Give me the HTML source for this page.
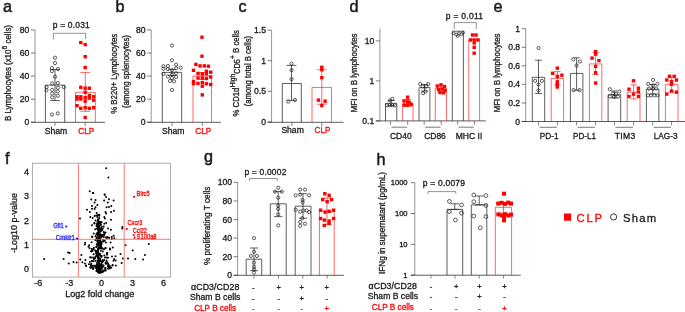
<!DOCTYPE html>
<html><head><meta charset="utf-8"><title>Figure</title>
<style>html,body{margin:0;padding:0;background:#fff}svg{display:block;will-change:transform;opacity:0.999}text{font-family:"Liberation Sans", sans-serif}</style>
</head><body>
<svg width="685" height="312" viewBox="0 0 685 312">
<rect width="685" height="312" fill="#fff"/>
<text x="3.00" y="12.40" font-size="16.2" text-anchor="start" fill="#1a1a1a" stroke="#1a1a1a" stroke-width="0.5" font-weight="normal" >a</text>
<line x1="35.00" y1="29.90" x2="35.00" y2="122.30" stroke="#8a8a8a" stroke-width="0.9" />
<line x1="31.00" y1="29.90" x2="35.00" y2="29.90" stroke="#444" stroke-width="0.7" />
<text x="29.40" y="32.91" font-size="8.6" text-anchor="end" fill="#1a1a1a" stroke="#1a1a1a" stroke-width="0.3" font-weight="normal" >80</text>
<line x1="31.00" y1="53.00" x2="35.00" y2="53.00" stroke="#444" stroke-width="0.7" />
<text x="29.40" y="56.01" font-size="8.6" text-anchor="end" fill="#1a1a1a" stroke="#1a1a1a" stroke-width="0.3" font-weight="normal" >60</text>
<line x1="31.00" y1="76.10" x2="35.00" y2="76.10" stroke="#444" stroke-width="0.7" />
<text x="29.40" y="79.11" font-size="8.6" text-anchor="end" fill="#1a1a1a" stroke="#1a1a1a" stroke-width="0.3" font-weight="normal" >40</text>
<line x1="31.00" y1="99.20" x2="35.00" y2="99.20" stroke="#444" stroke-width="0.7" />
<text x="29.40" y="102.21" font-size="8.6" text-anchor="end" fill="#1a1a1a" stroke="#1a1a1a" stroke-width="0.3" font-weight="normal" >20</text>
<line x1="31.00" y1="122.30" x2="35.00" y2="122.30" stroke="#444" stroke-width="0.7" />
<text x="29.40" y="125.31" font-size="8.6" text-anchor="end" fill="#1a1a1a" stroke="#1a1a1a" stroke-width="0.3" font-weight="normal" >0</text>
<line x1="31.00" y1="122.30" x2="105.00" y2="122.30" stroke="#333" stroke-width="0.8" />
<line x1="55.00" y1="122.30" x2="55.00" y2="126.00" stroke="#555" stroke-width="0.7" />
<line x1="85.20" y1="122.30" x2="85.20" y2="126.00" stroke="#555" stroke-width="0.7" />
<path d="M45.40 122.30V85.10H64.70V122.30" fill="none" stroke="#1a1a1a" stroke-width="0.7"/>
<path d="M75.50 122.30V92.30H95.30V122.30" fill="none" stroke="#ff0000" stroke-width="0.6"/>
<line x1="55.00" y1="69.50" x2="55.00" y2="100.50" stroke="#1a1a1a" stroke-width="0.7" />
<line x1="50.40" y1="69.50" x2="59.60" y2="69.50" stroke="#1a1a1a" stroke-width="0.7" />
<line x1="50.40" y1="100.50" x2="59.60" y2="100.50" stroke="#1a1a1a" stroke-width="0.7" />
<line x1="85.30" y1="72.40" x2="85.30" y2="111.30" stroke="#ff0000" stroke-width="0.6" />
<line x1="80.30" y1="72.40" x2="90.30" y2="72.40" stroke="#ff0000" stroke-width="0.6" />
<line x1="80.30" y1="111.30" x2="90.30" y2="111.30" stroke="#ff0000" stroke-width="0.6" />
<circle cx="55.00" cy="57.70" r="1.6" fill="none" stroke="#1a1a1a" stroke-width="0.7"/>
<circle cx="55.00" cy="63.10" r="1.6" fill="none" stroke="#1a1a1a" stroke-width="0.7"/>
<circle cx="51.90" cy="68.00" r="1.6" fill="none" stroke="#1a1a1a" stroke-width="0.7"/>
<circle cx="58.00" cy="69.00" r="1.6" fill="none" stroke="#1a1a1a" stroke-width="0.7"/>
<circle cx="51.90" cy="71.10" r="1.6" fill="none" stroke="#1a1a1a" stroke-width="0.7"/>
<circle cx="55.00" cy="76.70" r="1.6" fill="none" stroke="#1a1a1a" stroke-width="0.7"/>
<circle cx="52.20" cy="83.50" r="1.6" fill="none" stroke="#1a1a1a" stroke-width="0.7"/>
<circle cx="57.80" cy="83.00" r="1.6" fill="none" stroke="#1a1a1a" stroke-width="0.7"/>
<circle cx="46.50" cy="87.10" r="1.6" fill="none" stroke="#1a1a1a" stroke-width="0.7"/>
<circle cx="63.70" cy="87.10" r="1.6" fill="none" stroke="#1a1a1a" stroke-width="0.7"/>
<circle cx="57.80" cy="87.80" r="1.6" fill="none" stroke="#1a1a1a" stroke-width="0.7"/>
<circle cx="46.50" cy="90.20" r="1.6" fill="none" stroke="#1a1a1a" stroke-width="0.7"/>
<circle cx="52.20" cy="89.90" r="1.6" fill="none" stroke="#1a1a1a" stroke-width="0.7"/>
<circle cx="57.80" cy="91.40" r="1.6" fill="none" stroke="#1a1a1a" stroke-width="0.7"/>
<circle cx="52.20" cy="93.50" r="1.6" fill="none" stroke="#1a1a1a" stroke-width="0.7"/>
<circle cx="57.80" cy="95.70" r="1.6" fill="none" stroke="#1a1a1a" stroke-width="0.7"/>
<circle cx="52.20" cy="97.40" r="1.6" fill="none" stroke="#1a1a1a" stroke-width="0.7"/>
<circle cx="51.90" cy="114.60" r="1.6" fill="none" stroke="#1a1a1a" stroke-width="0.7"/>
<circle cx="57.80" cy="113.40" r="1.6" fill="none" stroke="#1a1a1a" stroke-width="0.7"/>
<rect x="79.10" y="40.90" width="3.4" height="3.4" fill="#ff0000"/>
<rect x="83.50" y="42.90" width="3.4" height="3.4" fill="#ff0000"/>
<rect x="83.50" y="55.00" width="3.4" height="3.4" fill="#ff0000"/>
<rect x="83.50" y="65.80" width="3.4" height="3.4" fill="#ff0000"/>
<rect x="79.10" y="85.60" width="3.4" height="3.4" fill="#ff0000"/>
<rect x="83.50" y="86.50" width="3.4" height="3.4" fill="#ff0000"/>
<rect x="87.60" y="86.50" width="3.4" height="3.4" fill="#ff0000"/>
<rect x="83.50" y="90.60" width="3.4" height="3.4" fill="#ff0000"/>
<rect x="75.30" y="95.10" width="3.4" height="3.4" fill="#ff0000"/>
<rect x="79.10" y="95.10" width="3.4" height="3.4" fill="#ff0000"/>
<rect x="75.30" y="97.40" width="3.4" height="3.4" fill="#ff0000"/>
<rect x="79.10" y="97.30" width="3.4" height="3.4" fill="#ff0000"/>
<rect x="83.50" y="95.90" width="3.4" height="3.4" fill="#ff0000"/>
<rect x="87.60" y="93.80" width="3.4" height="3.4" fill="#ff0000"/>
<rect x="87.60" y="96.40" width="3.4" height="3.4" fill="#ff0000"/>
<rect x="91.90" y="94.90" width="3.4" height="3.4" fill="#ff0000"/>
<rect x="91.90" y="98.50" width="3.4" height="3.4" fill="#ff0000"/>
<rect x="83.50" y="99.50" width="3.4" height="3.4" fill="#ff0000"/>
<rect x="75.30" y="104.00" width="3.4" height="3.4" fill="#ff0000"/>
<rect x="79.10" y="106.60" width="3.4" height="3.4" fill="#ff0000"/>
<rect x="83.50" y="106.00" width="3.4" height="3.4" fill="#ff0000"/>
<rect x="87.60" y="106.60" width="3.4" height="3.4" fill="#ff0000"/>
<rect x="91.90" y="106.00" width="3.4" height="3.4" fill="#ff0000"/>
<rect x="83.50" y="115.80" width="3.4" height="3.4" fill="#ff0000"/>
<text x="56.05" y="133.90" font-size="8.7" text-anchor="middle" fill="#1a1a1a" stroke="#1a1a1a" stroke-width="0.3" font-weight="normal" textLength="22.50" lengthAdjust="spacingAndGlyphs" >Sham</text>
<text x="86.25" y="133.90" font-size="8.7" text-anchor="middle" fill="#ff0000" stroke="#ff0000" stroke-width="0.3" font-weight="normal" textLength="16.10" lengthAdjust="spacingAndGlyphs" >CLP</text>
<path d="M53.40 39.50V33.30H85.70V39.50" fill="none" stroke="#666" stroke-width="0.7"/>
<text x="71.30" y="28.20" font-size="8.5" text-anchor="middle" fill="#1a1a1a" stroke="#1a1a1a" stroke-width="0.3" font-weight="normal" textLength="36.90" lengthAdjust="spacing" >p = 0.031</text>
<text x="10.70" y="73.00" font-size="8.6" text-anchor="middle" fill="#1a1a1a" stroke="#1a1a1a" stroke-width="0.3" font-weight="normal" textLength="96.00" lengthAdjust="spacingAndGlyphs" transform="rotate(-90 10.70 73.00)" >B Lymphocytes (x10<tspan dy="-3.2" font-size="7.3">6</tspan><tspan dy="3.2"> cells)</tspan></text>
<text x="115.50" y="12.40" font-size="16.2" text-anchor="start" fill="#1a1a1a" stroke="#1a1a1a" stroke-width="0.5" font-weight="normal" >b</text>
<line x1="151.20" y1="29.90" x2="151.20" y2="122.30" stroke="#8a8a8a" stroke-width="0.9" />
<line x1="147.20" y1="29.90" x2="151.20" y2="29.90" stroke="#444" stroke-width="0.7" />
<text x="145.60" y="32.91" font-size="8.6" text-anchor="end" fill="#1a1a1a" stroke="#1a1a1a" stroke-width="0.3" font-weight="normal" >80</text>
<line x1="147.20" y1="53.00" x2="151.20" y2="53.00" stroke="#444" stroke-width="0.7" />
<text x="145.60" y="56.01" font-size="8.6" text-anchor="end" fill="#1a1a1a" stroke="#1a1a1a" stroke-width="0.3" font-weight="normal" >60</text>
<line x1="147.20" y1="76.10" x2="151.20" y2="76.10" stroke="#444" stroke-width="0.7" />
<text x="145.60" y="79.11" font-size="8.6" text-anchor="end" fill="#1a1a1a" stroke="#1a1a1a" stroke-width="0.3" font-weight="normal" >40</text>
<line x1="147.20" y1="99.20" x2="151.20" y2="99.20" stroke="#444" stroke-width="0.7" />
<text x="145.60" y="102.21" font-size="8.6" text-anchor="end" fill="#1a1a1a" stroke="#1a1a1a" stroke-width="0.3" font-weight="normal" >20</text>
<line x1="147.20" y1="122.30" x2="151.20" y2="122.30" stroke="#444" stroke-width="0.7" />
<text x="145.60" y="125.31" font-size="8.6" text-anchor="end" fill="#1a1a1a" stroke="#1a1a1a" stroke-width="0.3" font-weight="normal" >0</text>
<line x1="147.20" y1="122.30" x2="221.00" y2="122.30" stroke="#333" stroke-width="0.8" />
<line x1="172.00" y1="122.30" x2="172.00" y2="126.00" stroke="#555" stroke-width="0.7" />
<line x1="202.30" y1="122.30" x2="202.30" y2="126.00" stroke="#555" stroke-width="0.7" />
<path d="M162.30 122.30V72.40H181.70V122.30" fill="none" stroke="#1a1a1a" stroke-width="0.7"/>
<path d="M193.00 122.30V76.00H211.50V122.30" fill="none" stroke="#ff0000" stroke-width="0.6"/>
<circle cx="172.00" cy="45.60" r="1.6" fill="none" stroke="#1a1a1a" stroke-width="0.7"/>
<circle cx="172.00" cy="60.30" r="1.6" fill="none" stroke="#1a1a1a" stroke-width="0.7"/>
<circle cx="176.10" cy="64.70" r="1.6" fill="none" stroke="#1a1a1a" stroke-width="0.7"/>
<circle cx="163.50" cy="66.20" r="1.6" fill="none" stroke="#1a1a1a" stroke-width="0.7"/>
<circle cx="167.90" cy="66.00" r="1.6" fill="none" stroke="#1a1a1a" stroke-width="0.7"/>
<circle cx="180.70" cy="67.70" r="1.6" fill="none" stroke="#1a1a1a" stroke-width="0.7"/>
<circle cx="176.10" cy="68.30" r="1.6" fill="none" stroke="#1a1a1a" stroke-width="0.7"/>
<circle cx="163.50" cy="68.80" r="1.6" fill="none" stroke="#1a1a1a" stroke-width="0.7"/>
<circle cx="167.90" cy="69.00" r="1.6" fill="none" stroke="#1a1a1a" stroke-width="0.7"/>
<circle cx="172.00" cy="70.30" r="1.6" fill="none" stroke="#1a1a1a" stroke-width="0.7"/>
<circle cx="163.50" cy="73.90" r="1.6" fill="none" stroke="#1a1a1a" stroke-width="0.7"/>
<circle cx="167.90" cy="76.50" r="1.6" fill="none" stroke="#1a1a1a" stroke-width="0.7"/>
<circle cx="172.00" cy="74.40" r="1.6" fill="none" stroke="#1a1a1a" stroke-width="0.7"/>
<circle cx="176.10" cy="73.40" r="1.6" fill="none" stroke="#1a1a1a" stroke-width="0.7"/>
<circle cx="176.10" cy="77.00" r="1.6" fill="none" stroke="#1a1a1a" stroke-width="0.7"/>
<circle cx="172.00" cy="78.00" r="1.6" fill="none" stroke="#1a1a1a" stroke-width="0.7"/>
<circle cx="170.00" cy="81.00" r="1.6" fill="none" stroke="#1a1a1a" stroke-width="0.7"/>
<circle cx="174.00" cy="81.30" r="1.6" fill="none" stroke="#1a1a1a" stroke-width="0.7"/>
<circle cx="172.00" cy="90.00" r="1.6" fill="none" stroke="#1a1a1a" stroke-width="0.7"/>
<line x1="172.00" y1="69.30" x2="172.00" y2="75.50" stroke="#1a1a1a" stroke-width="0.7" />
<line x1="168.00" y1="69.30" x2="176.00" y2="69.30" stroke="#1a1a1a" stroke-width="0.7" />
<line x1="168.00" y1="75.50" x2="176.00" y2="75.50" stroke="#1a1a1a" stroke-width="0.7" />
<rect x="200.30" y="35.50" width="3.4" height="3.4" fill="#ff0000"/>
<rect x="200.30" y="54.50" width="3.4" height="3.4" fill="#ff0000"/>
<rect x="194.20" y="62.70" width="3.4" height="3.4" fill="#ff0000"/>
<rect x="198.30" y="64.20" width="3.4" height="3.4" fill="#ff0000"/>
<rect x="202.60" y="64.20" width="3.4" height="3.4" fill="#ff0000"/>
<rect x="206.70" y="64.50" width="3.4" height="3.4" fill="#ff0000"/>
<rect x="191.80" y="68.60" width="3.4" height="3.4" fill="#ff0000"/>
<rect x="204.70" y="69.60" width="3.4" height="3.4" fill="#ff0000"/>
<rect x="209.00" y="70.50" width="3.4" height="3.4" fill="#ff0000"/>
<rect x="196.30" y="71.70" width="3.4" height="3.4" fill="#ff0000"/>
<rect x="200.60" y="72.20" width="3.4" height="3.4" fill="#ff0000"/>
<rect x="204.70" y="72.20" width="3.4" height="3.4" fill="#ff0000"/>
<rect x="209.00" y="75.30" width="3.4" height="3.4" fill="#ff0000"/>
<rect x="196.30" y="76.30" width="3.4" height="3.4" fill="#ff0000"/>
<rect x="200.60" y="76.30" width="3.4" height="3.4" fill="#ff0000"/>
<rect x="204.70" y="76.80" width="3.4" height="3.4" fill="#ff0000"/>
<rect x="191.80" y="79.90" width="3.4" height="3.4" fill="#ff0000"/>
<rect x="191.80" y="81.90" width="3.4" height="3.4" fill="#ff0000"/>
<rect x="196.30" y="81.70" width="3.4" height="3.4" fill="#ff0000"/>
<rect x="200.60" y="80.90" width="3.4" height="3.4" fill="#ff0000"/>
<rect x="204.70" y="82.10" width="3.4" height="3.4" fill="#ff0000"/>
<rect x="209.00" y="82.80" width="3.4" height="3.4" fill="#ff0000"/>
<rect x="200.60" y="84.50" width="3.4" height="3.4" fill="#ff0000"/>
<rect x="200.60" y="93.20" width="3.4" height="3.4" fill="#ff0000"/>
<line x1="202.30" y1="72.50" x2="202.30" y2="79.50" stroke="#ff0000" stroke-width="0.6" />
<line x1="198.30" y1="72.50" x2="206.30" y2="72.50" stroke="#ff0000" stroke-width="0.6" />
<line x1="198.30" y1="79.50" x2="206.30" y2="79.50" stroke="#ff0000" stroke-width="0.6" />
<text x="173.25" y="133.90" font-size="8.7" text-anchor="middle" fill="#1a1a1a" stroke="#1a1a1a" stroke-width="0.3" font-weight="normal" textLength="22.50" lengthAdjust="spacingAndGlyphs" >Sham</text>
<text x="203.35" y="133.90" font-size="8.7" text-anchor="middle" fill="#ff0000" stroke="#ff0000" stroke-width="0.3" font-weight="normal" textLength="16.00" lengthAdjust="spacingAndGlyphs" >CLP</text>
<text x="117.20" y="73.80" font-size="8.6" text-anchor="middle" fill="#1a1a1a" stroke="#1a1a1a" stroke-width="0.3" font-weight="normal" textLength="80.00" lengthAdjust="spacingAndGlyphs" transform="rotate(-90 117.20 73.80)" >% B220+ Lymphocytes</text>
<text x="129.20" y="71.50" font-size="8.6" text-anchor="middle" fill="#1a1a1a" stroke="#1a1a1a" stroke-width="0.3" font-weight="normal" textLength="73.00" lengthAdjust="spacingAndGlyphs" transform="rotate(-90 129.20 71.50)" >(among splenocytes)</text>
<text x="238.50" y="12.40" font-size="16.2" text-anchor="start" fill="#1a1a1a" stroke="#1a1a1a" stroke-width="0.5" font-weight="normal" >c</text>
<line x1="271.60" y1="30.10" x2="271.60" y2="122.30" stroke="#8a8a8a" stroke-width="0.9" />
<line x1="267.60" y1="30.10" x2="271.60" y2="30.10" stroke="#444" stroke-width="0.7" />
<text x="266.00" y="33.11" font-size="8.6" text-anchor="end" fill="#1a1a1a" stroke="#1a1a1a" stroke-width="0.3" font-weight="normal" >1.5</text>
<line x1="267.60" y1="60.70" x2="271.60" y2="60.70" stroke="#444" stroke-width="0.7" />
<text x="266.00" y="63.71" font-size="8.6" text-anchor="end" fill="#1a1a1a" stroke="#1a1a1a" stroke-width="0.3" font-weight="normal" >1</text>
<line x1="267.60" y1="91.30" x2="271.60" y2="91.30" stroke="#444" stroke-width="0.7" />
<text x="266.00" y="94.31" font-size="8.6" text-anchor="end" fill="#1a1a1a" stroke="#1a1a1a" stroke-width="0.3" font-weight="normal" >0.5</text>
<line x1="267.60" y1="121.90" x2="271.60" y2="121.90" stroke="#444" stroke-width="0.7" />
<text x="266.00" y="124.91" font-size="8.6" text-anchor="end" fill="#1a1a1a" stroke="#1a1a1a" stroke-width="0.3" font-weight="normal" >0</text>
<line x1="267.60" y1="122.30" x2="343.50" y2="122.30" stroke="#333" stroke-width="0.8" />
<line x1="291.80" y1="122.30" x2="291.80" y2="126.00" stroke="#555" stroke-width="0.7" />
<line x1="321.80" y1="122.30" x2="321.80" y2="126.00" stroke="#555" stroke-width="0.7" />
<path d="M282.30 122.30V83.50H301.30V122.30" fill="none" stroke="#1a1a1a" stroke-width="0.7"/>
<path d="M312.00 122.30V87.40H331.50V122.30" fill="none" stroke="#ff0000" stroke-width="0.6"/>
<line x1="291.50" y1="65.40" x2="291.50" y2="100.40" stroke="#1a1a1a" stroke-width="0.7" />
<line x1="286.50" y1="65.40" x2="296.50" y2="65.40" stroke="#1a1a1a" stroke-width="0.7" />
<line x1="286.50" y1="100.40" x2="296.50" y2="100.40" stroke="#1a1a1a" stroke-width="0.7" />
<line x1="321.80" y1="69.80" x2="321.80" y2="104.20" stroke="#ff0000" stroke-width="0.6" />
<line x1="316.80" y1="69.80" x2="326.80" y2="69.80" stroke="#ff0000" stroke-width="0.6" />
<line x1="316.80" y1="104.20" x2="326.80" y2="104.20" stroke="#ff0000" stroke-width="0.6" />
<circle cx="291.50" cy="63.70" r="1.6" fill="none" stroke="#1a1a1a" stroke-width="0.7"/>
<circle cx="291.50" cy="70.20" r="1.6" fill="none" stroke="#1a1a1a" stroke-width="0.7"/>
<circle cx="291.50" cy="79.10" r="1.6" fill="none" stroke="#1a1a1a" stroke-width="0.7"/>
<circle cx="288.30" cy="101.60" r="1.6" fill="none" stroke="#1a1a1a" stroke-width="0.7"/>
<circle cx="294.90" cy="99.90" r="1.6" fill="none" stroke="#1a1a1a" stroke-width="0.7"/>
<rect x="320.10" y="65.60" width="3.4" height="3.4" fill="#ff0000"/>
<rect x="320.10" y="68.10" width="3.4" height="3.4" fill="#ff0000"/>
<rect x="320.10" y="76.00" width="3.4" height="3.4" fill="#ff0000"/>
<rect x="316.70" y="98.40" width="3.4" height="3.4" fill="#ff0000"/>
<rect x="323.40" y="99.50" width="3.4" height="3.4" fill="#ff0000"/>
<rect x="320.10" y="103.80" width="3.4" height="3.4" fill="#ff0000"/>
<text x="292.60" y="133.00" font-size="8.7" text-anchor="middle" fill="#1a1a1a" stroke="#1a1a1a" stroke-width="0.3" font-weight="normal" textLength="22.40" lengthAdjust="spacingAndGlyphs" >Sham</text>
<text x="322.45" y="133.00" font-size="8.7" text-anchor="middle" fill="#ff0000" stroke="#ff0000" stroke-width="0.3" font-weight="normal" textLength="15.80" lengthAdjust="spacingAndGlyphs" >CLP</text>
<text x="238.60" y="73.30" font-size="8.6" text-anchor="middle" fill="#1a1a1a" stroke="#1a1a1a" stroke-width="0.3" font-weight="normal" textLength="86.60" lengthAdjust="spacingAndGlyphs" transform="rotate(-90 238.60 73.30)" >% CD1d<tspan dy="-3.2" font-size="7.3">High</tspan><tspan dy="4.4" font-size="8.2">CD5</tspan><tspan dy="-4.4" font-size="7.3">+</tspan><tspan dy="3.2"> B cells</tspan></text>
<text x="251.20" y="71.10" font-size="8.6" text-anchor="middle" fill="#1a1a1a" stroke="#1a1a1a" stroke-width="0.3" font-weight="normal" textLength="70.50" lengthAdjust="spacingAndGlyphs" transform="rotate(-90 251.20 71.10)" >(among total B cells)</text>
<text x="349.50" y="12.40" font-size="16.2" text-anchor="start" fill="#1a1a1a" stroke="#1a1a1a" stroke-width="0.5" font-weight="normal" >d</text>
<line x1="379.90" y1="28.70" x2="379.90" y2="120.90" stroke="#8a8a8a" stroke-width="0.9" />
<line x1="375.90" y1="40.90" x2="379.90" y2="40.90" stroke="#444" stroke-width="0.7" />
<text x="374.30" y="43.91" font-size="8.6" text-anchor="end" fill="#1a1a1a" stroke="#1a1a1a" stroke-width="0.3" font-weight="normal" >10</text>
<line x1="375.90" y1="80.90" x2="379.90" y2="80.90" stroke="#444" stroke-width="0.7" />
<text x="374.30" y="83.91" font-size="8.6" text-anchor="end" fill="#1a1a1a" stroke="#1a1a1a" stroke-width="0.3" font-weight="normal" >1</text>
<line x1="375.90" y1="120.90" x2="379.90" y2="120.90" stroke="#444" stroke-width="0.7" />
<text x="374.30" y="123.91" font-size="8.6" text-anchor="end" fill="#1a1a1a" stroke="#1a1a1a" stroke-width="0.3" font-weight="normal" >0.1</text>
<line x1="375.90" y1="120.90" x2="485.80" y2="120.90" stroke="#333" stroke-width="0.8" />
<path d="M385.50 120.90V103.30H396.80V120.90" fill="none" stroke="#1a1a1a" stroke-width="0.7"/>
<path d="M402.40 120.90V104.30H413.00V120.90" fill="none" stroke="#ff0000" stroke-width="0.6"/>
<path d="M419.00 120.90V87.60H429.90V120.90" fill="none" stroke="#1a1a1a" stroke-width="0.7"/>
<path d="M435.30 120.90V88.30H446.50V120.90" fill="none" stroke="#ff0000" stroke-width="0.6"/>
<path d="M452.30 120.90V31.20H463.40V120.90" fill="none" stroke="#1a1a1a" stroke-width="0.7"/>
<path d="M468.80 120.90V39.30H479.60V120.90" fill="none" stroke="#ff0000" stroke-width="0.6"/>
<line x1="391.20" y1="100.50" x2="391.20" y2="105.50" stroke="#1a1a1a" stroke-width="0.7" />
<line x1="387.70" y1="100.50" x2="394.70" y2="100.50" stroke="#1a1a1a" stroke-width="0.7" />
<line x1="387.70" y1="105.50" x2="394.70" y2="105.50" stroke="#1a1a1a" stroke-width="0.7" />
<line x1="407.70" y1="99.50" x2="407.70" y2="106.50" stroke="#ff0000" stroke-width="0.6" />
<line x1="404.20" y1="99.50" x2="411.20" y2="99.50" stroke="#ff0000" stroke-width="0.6" />
<line x1="404.20" y1="106.50" x2="411.20" y2="106.50" stroke="#ff0000" stroke-width="0.6" />
<line x1="424.50" y1="84.50" x2="424.50" y2="91.00" stroke="#1a1a1a" stroke-width="0.7" />
<line x1="421.00" y1="84.50" x2="428.00" y2="84.50" stroke="#1a1a1a" stroke-width="0.7" />
<line x1="421.00" y1="91.00" x2="428.00" y2="91.00" stroke="#1a1a1a" stroke-width="0.7" />
<line x1="441.00" y1="85.50" x2="441.00" y2="92.00" stroke="#ff0000" stroke-width="0.6" />
<line x1="437.50" y1="85.50" x2="444.50" y2="85.50" stroke="#ff0000" stroke-width="0.6" />
<line x1="437.50" y1="92.00" x2="444.50" y2="92.00" stroke="#ff0000" stroke-width="0.6" />
<circle cx="392.30" cy="98.80" r="1.6" fill="none" stroke="#1a1a1a" stroke-width="0.7"/>
<circle cx="390.00" cy="100.50" r="1.6" fill="none" stroke="#1a1a1a" stroke-width="0.7"/>
<circle cx="387.00" cy="105.30" r="1.6" fill="none" stroke="#1a1a1a" stroke-width="0.7"/>
<circle cx="389.60" cy="105.30" r="1.6" fill="none" stroke="#1a1a1a" stroke-width="0.7"/>
<circle cx="392.20" cy="105.30" r="1.6" fill="none" stroke="#1a1a1a" stroke-width="0.7"/>
<circle cx="394.80" cy="105.30" r="1.6" fill="none" stroke="#1a1a1a" stroke-width="0.7"/>
<rect x="405.90" y="95.50" width="3.4" height="3.4" fill="#ff0000"/>
<rect x="402.30" y="99.30" width="3.4" height="3.4" fill="#ff0000"/>
<rect x="405.90" y="99.80" width="3.4" height="3.4" fill="#ff0000"/>
<rect x="402.50" y="103.30" width="3.4" height="3.4" fill="#ff0000"/>
<rect x="406.10" y="103.30" width="3.4" height="3.4" fill="#ff0000"/>
<rect x="409.70" y="102.70" width="3.4" height="3.4" fill="#ff0000"/>
<rect x="407.80" y="100.80" width="3.4" height="3.4" fill="#ff0000"/>
<circle cx="420.30" cy="84.00" r="1.6" fill="none" stroke="#1a1a1a" stroke-width="0.7"/>
<circle cx="428.20" cy="84.00" r="1.6" fill="none" stroke="#1a1a1a" stroke-width="0.7"/>
<circle cx="422.60" cy="86.50" r="1.6" fill="none" stroke="#1a1a1a" stroke-width="0.7"/>
<circle cx="426.00" cy="86.50" r="1.6" fill="none" stroke="#1a1a1a" stroke-width="0.7"/>
<circle cx="425.40" cy="91.50" r="1.6" fill="none" stroke="#1a1a1a" stroke-width="0.7"/>
<circle cx="423.10" cy="93.20" r="1.6" fill="none" stroke="#1a1a1a" stroke-width="0.7"/>
<rect x="435.60" y="84.30" width="3.4" height="3.4" fill="#ff0000"/>
<rect x="439.30" y="83.10" width="3.4" height="3.4" fill="#ff0000"/>
<rect x="442.80" y="84.80" width="3.4" height="3.4" fill="#ff0000"/>
<rect x="436.80" y="87.80" width="3.4" height="3.4" fill="#ff0000"/>
<rect x="440.50" y="87.30" width="3.4" height="3.4" fill="#ff0000"/>
<rect x="443.30" y="88.80" width="3.4" height="3.4" fill="#ff0000"/>
<rect x="438.30" y="90.80" width="3.4" height="3.4" fill="#ff0000"/>
<rect x="441.80" y="91.10" width="3.4" height="3.4" fill="#ff0000"/>
<circle cx="453.60" cy="33.30" r="1.4" fill="none" stroke="#1a1a1a" stroke-width="0.7"/>
<circle cx="456.30" cy="34.50" r="1.4" fill="none" stroke="#1a1a1a" stroke-width="0.7"/>
<circle cx="459.00" cy="33.20" r="1.4" fill="none" stroke="#1a1a1a" stroke-width="0.7"/>
<circle cx="461.60" cy="34.30" r="1.4" fill="none" stroke="#1a1a1a" stroke-width="0.7"/>
<circle cx="463.20" cy="32.60" r="1.4" fill="none" stroke="#1a1a1a" stroke-width="0.7"/>
<circle cx="457.80" cy="36.00" r="1.4" fill="none" stroke="#1a1a1a" stroke-width="0.7"/>
<rect x="470.80" y="33.30" width="3.4" height="3.4" fill="#ff0000"/>
<rect x="474.30" y="33.30" width="3.4" height="3.4" fill="#ff0000"/>
<rect x="468.80" y="38.30" width="3.4" height="3.4" fill="#ff0000"/>
<rect x="472.50" y="38.30" width="3.4" height="3.4" fill="#ff0000"/>
<rect x="476.20" y="38.30" width="3.4" height="3.4" fill="#ff0000"/>
<rect x="472.50" y="41.30" width="3.4" height="3.4" fill="#ff0000"/>
<rect x="472.50" y="45.60" width="3.4" height="3.4" fill="#ff0000"/>
<rect x="472.50" y="51.50" width="3.4" height="3.4" fill="#ff0000"/>
<line x1="390.50" y1="120.90" x2="390.50" y2="124.80" stroke="#555" stroke-width="0.7" />
<line x1="407.70" y1="120.90" x2="407.70" y2="124.80" stroke="#555" stroke-width="0.7" />
<line x1="391.50" y1="127.20" x2="407.10" y2="127.20" stroke="#555" stroke-width="0.8" />
<line x1="424.20" y1="120.90" x2="424.20" y2="124.80" stroke="#555" stroke-width="0.7" />
<line x1="441.20" y1="120.90" x2="441.20" y2="124.80" stroke="#555" stroke-width="0.7" />
<line x1="425.20" y1="127.20" x2="440.60" y2="127.20" stroke="#555" stroke-width="0.8" />
<line x1="457.60" y1="120.90" x2="457.60" y2="124.80" stroke="#555" stroke-width="0.7" />
<line x1="474.40" y1="120.90" x2="474.40" y2="124.80" stroke="#555" stroke-width="0.7" />
<line x1="458.60" y1="127.20" x2="473.80" y2="127.20" stroke="#555" stroke-width="0.8" />
<text x="400.80" y="139.30" font-size="8.6" text-anchor="middle" fill="#1a1a1a" stroke="#1a1a1a" stroke-width="0.3" font-weight="normal" textLength="21.70" lengthAdjust="spacingAndGlyphs" >CD40</text>
<text x="435.00" y="139.30" font-size="8.6" text-anchor="middle" fill="#1a1a1a" stroke="#1a1a1a" stroke-width="0.3" font-weight="normal" textLength="21.70" lengthAdjust="spacingAndGlyphs" >CD86</text>
<text x="469.00" y="139.30" font-size="8.6" text-anchor="middle" fill="#1a1a1a" stroke="#1a1a1a" stroke-width="0.3" font-weight="normal" textLength="26.50" lengthAdjust="spacingAndGlyphs" >MHC II</text>
<path d="M454.30 29.00V22.60H476.30V29.00" fill="none" stroke="#666" stroke-width="0.7"/>
<text x="464.40" y="18.70" font-size="8.5" text-anchor="middle" fill="#1a1a1a" stroke="#1a1a1a" stroke-width="0.3" font-weight="normal" textLength="37.20" lengthAdjust="spacing" >p = 0.011</text>
<text x="356.80" y="72.90" font-size="8.6" text-anchor="middle" fill="#1a1a1a" stroke="#1a1a1a" stroke-width="0.3" font-weight="normal" textLength="79.00" lengthAdjust="spacingAndGlyphs" transform="rotate(-90 356.80 72.90)" >MFI on B lymphocytes</text>
<text x="493.50" y="12.40" font-size="16.2" text-anchor="start" fill="#1a1a1a" stroke="#1a1a1a" stroke-width="0.5" font-weight="normal" >e</text>
<line x1="525.70" y1="28.70" x2="525.70" y2="121.50" stroke="#8a8a8a" stroke-width="0.9" />
<line x1="521.70" y1="28.70" x2="525.70" y2="28.70" stroke="#444" stroke-width="0.7" />
<text x="520.10" y="31.71" font-size="8.6" text-anchor="end" fill="#1a1a1a" stroke="#1a1a1a" stroke-width="0.3" font-weight="normal" >1</text>
<line x1="521.70" y1="47.26" x2="525.70" y2="47.26" stroke="#444" stroke-width="0.7" />
<text x="520.10" y="50.27" font-size="8.6" text-anchor="end" fill="#1a1a1a" stroke="#1a1a1a" stroke-width="0.3" font-weight="normal" >0.8</text>
<line x1="521.70" y1="65.82" x2="525.70" y2="65.82" stroke="#444" stroke-width="0.7" />
<text x="520.10" y="68.83" font-size="8.6" text-anchor="end" fill="#1a1a1a" stroke="#1a1a1a" stroke-width="0.3" font-weight="normal" >0.6</text>
<line x1="521.70" y1="84.38" x2="525.70" y2="84.38" stroke="#444" stroke-width="0.7" />
<text x="520.10" y="87.39" font-size="8.6" text-anchor="end" fill="#1a1a1a" stroke="#1a1a1a" stroke-width="0.3" font-weight="normal" >0.4</text>
<line x1="521.70" y1="102.94" x2="525.70" y2="102.94" stroke="#444" stroke-width="0.7" />
<text x="520.10" y="105.95" font-size="8.6" text-anchor="end" fill="#1a1a1a" stroke="#1a1a1a" stroke-width="0.3" font-weight="normal" >0.2</text>
<line x1="521.70" y1="121.50" x2="525.70" y2="121.50" stroke="#444" stroke-width="0.7" />
<text x="520.10" y="124.51" font-size="8.6" text-anchor="end" fill="#1a1a1a" stroke="#1a1a1a" stroke-width="0.3" font-weight="normal" >0</text>
<line x1="521.70" y1="121.50" x2="685.00" y2="121.50" stroke="#333" stroke-width="0.8" />
<path d="M532.30 121.50V77.30H544.70V121.50" fill="none" stroke="#1a1a1a" stroke-width="0.7"/>
<path d="M551.20 121.50V78.40H563.60V121.50" fill="none" stroke="#ff0000" stroke-width="0.6"/>
<path d="M570.40 121.50V73.40H582.90V121.50" fill="none" stroke="#1a1a1a" stroke-width="0.7"/>
<path d="M589.40 121.50V63.90H601.80V121.50" fill="none" stroke="#ff0000" stroke-width="0.6"/>
<path d="M608.10 121.50V94.70H620.70V121.50" fill="none" stroke="#1a1a1a" stroke-width="0.7"/>
<path d="M627.20 121.50V92.20H640.00V121.50" fill="none" stroke="#ff0000" stroke-width="0.6"/>
<path d="M646.40 121.50V89.20H658.90V121.50" fill="none" stroke="#1a1a1a" stroke-width="0.7"/>
<path d="M665.40 121.50V84.30H678.00V121.50" fill="none" stroke="#ff0000" stroke-width="0.6"/>
<line x1="538.50" y1="60.20" x2="538.50" y2="93.50" stroke="#1a1a1a" stroke-width="0.7" />
<line x1="535.10" y1="60.20" x2="541.90" y2="60.20" stroke="#1a1a1a" stroke-width="0.7" />
<line x1="535.10" y1="93.50" x2="541.90" y2="93.50" stroke="#1a1a1a" stroke-width="0.7" />
<line x1="557.40" y1="71.60" x2="557.40" y2="84.90" stroke="#ff0000" stroke-width="0.6" />
<line x1="554.20" y1="71.60" x2="560.60" y2="71.60" stroke="#ff0000" stroke-width="0.6" />
<line x1="554.20" y1="84.90" x2="560.60" y2="84.90" stroke="#ff0000" stroke-width="0.6" />
<line x1="576.60" y1="57.80" x2="576.60" y2="90.30" stroke="#1a1a1a" stroke-width="0.7" />
<line x1="573.40" y1="57.80" x2="579.80" y2="57.80" stroke="#1a1a1a" stroke-width="0.7" />
<line x1="573.40" y1="90.30" x2="579.80" y2="90.30" stroke="#1a1a1a" stroke-width="0.7" />
<line x1="595.60" y1="52.30" x2="595.60" y2="74.50" stroke="#ff0000" stroke-width="0.6" />
<line x1="592.40" y1="52.30" x2="598.80" y2="52.30" stroke="#ff0000" stroke-width="0.6" />
<line x1="592.40" y1="74.50" x2="598.80" y2="74.50" stroke="#ff0000" stroke-width="0.6" />
<line x1="614.30" y1="91.00" x2="614.30" y2="98.00" stroke="#1a1a1a" stroke-width="0.7" />
<line x1="611.10" y1="91.00" x2="617.50" y2="91.00" stroke="#1a1a1a" stroke-width="0.7" />
<line x1="611.10" y1="98.00" x2="617.50" y2="98.00" stroke="#1a1a1a" stroke-width="0.7" />
<line x1="633.60" y1="84.90" x2="633.60" y2="99.00" stroke="#ff0000" stroke-width="0.6" />
<line x1="630.40" y1="84.90" x2="636.80" y2="84.90" stroke="#ff0000" stroke-width="0.6" />
<line x1="630.40" y1="99.00" x2="636.80" y2="99.00" stroke="#ff0000" stroke-width="0.6" />
<line x1="652.70" y1="84.50" x2="652.70" y2="94.00" stroke="#1a1a1a" stroke-width="0.7" />
<line x1="649.50" y1="84.50" x2="655.90" y2="84.50" stroke="#1a1a1a" stroke-width="0.7" />
<line x1="649.50" y1="94.00" x2="655.90" y2="94.00" stroke="#1a1a1a" stroke-width="0.7" />
<line x1="671.60" y1="77.00" x2="671.60" y2="92.00" stroke="#ff0000" stroke-width="0.6" />
<line x1="668.40" y1="77.00" x2="674.80" y2="77.00" stroke="#ff0000" stroke-width="0.6" />
<line x1="668.40" y1="92.00" x2="674.80" y2="92.00" stroke="#ff0000" stroke-width="0.6" />
<circle cx="538.60" cy="48.00" r="1.6" fill="none" stroke="#1a1a1a" stroke-width="0.7"/>
<circle cx="535.20" cy="80.80" r="1.6" fill="none" stroke="#1a1a1a" stroke-width="0.7"/>
<circle cx="541.90" cy="80.80" r="1.6" fill="none" stroke="#1a1a1a" stroke-width="0.7"/>
<circle cx="538.50" cy="84.50" r="1.6" fill="none" stroke="#1a1a1a" stroke-width="0.7"/>
<circle cx="538.50" cy="90.40" r="1.6" fill="none" stroke="#1a1a1a" stroke-width="0.7"/>
<circle cx="573.30" cy="59.40" r="1.6" fill="none" stroke="#1a1a1a" stroke-width="0.7"/>
<circle cx="579.90" cy="61.50" r="1.6" fill="none" stroke="#1a1a1a" stroke-width="0.7"/>
<circle cx="576.60" cy="65.50" r="1.6" fill="none" stroke="#1a1a1a" stroke-width="0.7"/>
<circle cx="573.50" cy="90.10" r="1.6" fill="none" stroke="#1a1a1a" stroke-width="0.7"/>
<circle cx="579.60" cy="90.10" r="1.6" fill="none" stroke="#1a1a1a" stroke-width="0.7"/>
<circle cx="609.80" cy="89.20" r="1.6" fill="none" stroke="#1a1a1a" stroke-width="0.7"/>
<circle cx="619.40" cy="91.40" r="1.6" fill="none" stroke="#1a1a1a" stroke-width="0.7"/>
<circle cx="613.00" cy="93.50" r="1.6" fill="none" stroke="#1a1a1a" stroke-width="0.7"/>
<circle cx="616.00" cy="94.00" r="1.6" fill="none" stroke="#1a1a1a" stroke-width="0.7"/>
<circle cx="609.80" cy="96.50" r="1.6" fill="none" stroke="#1a1a1a" stroke-width="0.7"/>
<circle cx="618.00" cy="96.50" r="1.6" fill="none" stroke="#1a1a1a" stroke-width="0.7"/>
<circle cx="614.00" cy="96.80" r="1.6" fill="none" stroke="#1a1a1a" stroke-width="0.7"/>
<circle cx="653.10" cy="80.00" r="1.6" fill="none" stroke="#1a1a1a" stroke-width="0.7"/>
<circle cx="648.20" cy="83.90" r="1.6" fill="none" stroke="#1a1a1a" stroke-width="0.7"/>
<circle cx="657.40" cy="83.90" r="1.6" fill="none" stroke="#1a1a1a" stroke-width="0.7"/>
<circle cx="653.00" cy="85.50" r="1.6" fill="none" stroke="#1a1a1a" stroke-width="0.7"/>
<circle cx="649.00" cy="88.60" r="1.6" fill="none" stroke="#1a1a1a" stroke-width="0.7"/>
<circle cx="653.00" cy="88.80" r="1.6" fill="none" stroke="#1a1a1a" stroke-width="0.7"/>
<circle cx="656.30" cy="88.40" r="1.6" fill="none" stroke="#1a1a1a" stroke-width="0.7"/>
<circle cx="648.00" cy="95.30" r="1.6" fill="none" stroke="#1a1a1a" stroke-width="0.7"/>
<circle cx="651.00" cy="95.50" r="1.6" fill="none" stroke="#1a1a1a" stroke-width="0.7"/>
<circle cx="654.50" cy="95.30" r="1.6" fill="none" stroke="#1a1a1a" stroke-width="0.7"/>
<circle cx="657.50" cy="95.30" r="1.6" fill="none" stroke="#1a1a1a" stroke-width="0.7"/>
<rect x="555.60" y="66.50" width="3.4" height="3.4" fill="#ff0000"/>
<rect x="551.00" y="71.60" width="3.4" height="3.4" fill="#ff0000"/>
<rect x="560.20" y="73.50" width="3.4" height="3.4" fill="#ff0000"/>
<rect x="555.60" y="74.70" width="3.4" height="3.4" fill="#ff0000"/>
<rect x="555.60" y="80.10" width="3.4" height="3.4" fill="#ff0000"/>
<rect x="555.60" y="82.60" width="3.4" height="3.4" fill="#ff0000"/>
<rect x="555.60" y="85.30" width="3.4" height="3.4" fill="#ff0000"/>
<rect x="593.90" y="49.90" width="3.4" height="3.4" fill="#ff0000"/>
<rect x="593.90" y="52.40" width="3.4" height="3.4" fill="#ff0000"/>
<rect x="590.40" y="56.40" width="3.4" height="3.4" fill="#ff0000"/>
<rect x="597.20" y="58.90" width="3.4" height="3.4" fill="#ff0000"/>
<rect x="593.90" y="64.70" width="3.4" height="3.4" fill="#ff0000"/>
<rect x="593.90" y="71.10" width="3.4" height="3.4" fill="#ff0000"/>
<rect x="593.90" y="81.30" width="3.4" height="3.4" fill="#ff0000"/>
<rect x="631.80" y="79.10" width="3.4" height="3.4" fill="#ff0000"/>
<rect x="627.30" y="87.50" width="3.4" height="3.4" fill="#ff0000"/>
<rect x="636.70" y="86.50" width="3.4" height="3.4" fill="#ff0000"/>
<rect x="636.70" y="90.20" width="3.4" height="3.4" fill="#ff0000"/>
<rect x="631.80" y="92.40" width="3.4" height="3.4" fill="#ff0000"/>
<rect x="627.30" y="94.80" width="3.4" height="3.4" fill="#ff0000"/>
<rect x="636.70" y="94.80" width="3.4" height="3.4" fill="#ff0000"/>
<rect x="667.70" y="74.60" width="3.4" height="3.4" fill="#ff0000"/>
<rect x="672.50" y="74.60" width="3.4" height="3.4" fill="#ff0000"/>
<rect x="665.10" y="78.30" width="3.4" height="3.4" fill="#ff0000"/>
<rect x="674.70" y="78.30" width="3.4" height="3.4" fill="#ff0000"/>
<rect x="669.80" y="79.90" width="3.4" height="3.4" fill="#ff0000"/>
<rect x="669.80" y="82.60" width="3.4" height="3.4" fill="#ff0000"/>
<rect x="669.80" y="89.30" width="3.4" height="3.4" fill="#ff0000"/>
<rect x="674.70" y="90.50" width="3.4" height="3.4" fill="#ff0000"/>
<rect x="665.10" y="92.40" width="3.4" height="3.4" fill="#ff0000"/>
<line x1="538.60" y1="121.50" x2="538.60" y2="125.40" stroke="#555" stroke-width="0.7" />
<line x1="557.40" y1="121.50" x2="557.40" y2="125.40" stroke="#555" stroke-width="0.7" />
<line x1="539.60" y1="127.30" x2="556.80" y2="127.30" stroke="#555" stroke-width="0.8" />
<line x1="576.60" y1="121.50" x2="576.60" y2="125.40" stroke="#555" stroke-width="0.7" />
<line x1="595.50" y1="121.50" x2="595.50" y2="125.40" stroke="#555" stroke-width="0.7" />
<line x1="577.60" y1="127.30" x2="594.90" y2="127.30" stroke="#555" stroke-width="0.8" />
<line x1="614.40" y1="121.50" x2="614.40" y2="125.40" stroke="#555" stroke-width="0.7" />
<line x1="633.60" y1="121.50" x2="633.60" y2="125.40" stroke="#555" stroke-width="0.7" />
<line x1="615.40" y1="127.30" x2="633.00" y2="127.30" stroke="#555" stroke-width="0.8" />
<line x1="652.60" y1="121.50" x2="652.60" y2="125.40" stroke="#555" stroke-width="0.7" />
<line x1="671.60" y1="121.50" x2="671.60" y2="125.40" stroke="#555" stroke-width="0.7" />
<line x1="653.60" y1="127.30" x2="671.00" y2="127.30" stroke="#555" stroke-width="0.8" />
<text x="549.20" y="139.20" font-size="8.6" text-anchor="middle" fill="#1a1a1a" stroke="#1a1a1a" stroke-width="0.3" font-weight="normal" textLength="18.80" lengthAdjust="spacingAndGlyphs" >PD-1</text>
<text x="584.50" y="139.20" font-size="8.6" text-anchor="middle" fill="#1a1a1a" stroke="#1a1a1a" stroke-width="0.3" font-weight="normal" textLength="22.90" lengthAdjust="spacingAndGlyphs" >PD-L1</text>
<text x="625.00" y="139.20" font-size="8.6" text-anchor="middle" fill="#1a1a1a" stroke="#1a1a1a" stroke-width="0.3" font-weight="normal" textLength="20.50" lengthAdjust="spacing" >TIM3</text>
<text x="665.70" y="139.20" font-size="8.6" text-anchor="middle" fill="#1a1a1a" stroke="#1a1a1a" stroke-width="0.3" font-weight="normal" textLength="24.00" lengthAdjust="spacingAndGlyphs" >LAG-3</text>
<text x="500.20" y="72.90" font-size="8.6" text-anchor="middle" fill="#1a1a1a" stroke="#1a1a1a" stroke-width="0.3" font-weight="normal" textLength="79.00" lengthAdjust="spacingAndGlyphs" transform="rotate(-90 500.20 72.90)" >MFI on B lymphocytes</text>
<text x="5.00" y="164.40" font-size="16.2" text-anchor="start" fill="#1a1a1a" stroke="#1a1a1a" stroke-width="0.5" font-weight="normal" >f</text>
<rect x="32.5" y="163.2" width="137.9" height="113.9" fill="none" stroke="#999" stroke-width="0.8"/>
<circle cx="106.1" cy="168.2" r="1.0" fill="#000"/>
<circle cx="108.4" cy="177.5" r="1.0" fill="#000"/>
<circle cx="89.7" cy="191.2" r="1.0" fill="#000"/>
<circle cx="93.2" cy="193.1" r="1.0" fill="#000"/>
<circle cx="104.7" cy="194.8" r="1.0" fill="#000"/>
<circle cx="93.0" cy="192.9" r="1.0" fill="#000"/>
<circle cx="91.2" cy="199.4" r="1.0" fill="#000"/>
<circle cx="95.5" cy="199.9" r="1.0" fill="#000"/>
<circle cx="94.6" cy="202.5" r="1.0" fill="#000"/>
<circle cx="92.0" cy="206.0" r="1.0" fill="#000"/>
<circle cx="97.3" cy="204.9" r="1.0" fill="#000"/>
<circle cx="95.5" cy="207.2" r="1.0" fill="#000"/>
<circle cx="94.6" cy="208.9" r="1.0" fill="#000"/>
<circle cx="92.0" cy="208.7" r="1.0" fill="#000"/>
<circle cx="87.0" cy="209.8" r="1.0" fill="#000"/>
<circle cx="89.9" cy="211.9" r="1.0" fill="#000"/>
<circle cx="96.7" cy="213.0" r="1.0" fill="#000"/>
<circle cx="94.6" cy="215.9" r="1.0" fill="#000"/>
<circle cx="90.3" cy="217.1" r="1.0" fill="#000"/>
<circle cx="92.6" cy="217.9" r="1.0" fill="#000"/>
<circle cx="97.3" cy="217.1" r="1.0" fill="#000"/>
<circle cx="97.9" cy="219.5" r="1.0" fill="#000"/>
<circle cx="80.0" cy="218.6" r="1.0" fill="#000"/>
<circle cx="95.5" cy="220.6" r="1.0" fill="#000"/>
<circle cx="98.5" cy="221.8" r="1.0" fill="#000"/>
<circle cx="94.4" cy="223.5" r="1.0" fill="#000"/>
<circle cx="92.0" cy="225.3" r="1.0" fill="#000"/>
<circle cx="97.9" cy="225.9" r="1.0" fill="#000"/>
<circle cx="96.7" cy="224.1" r="1.0" fill="#000"/>
<circle cx="104.7" cy="194.6" r="1.0" fill="#000"/>
<circle cx="106.1" cy="196.9" r="1.0" fill="#000"/>
<circle cx="109.0" cy="199.2" r="1.0" fill="#000"/>
<circle cx="104.1" cy="200.4" r="1.0" fill="#000"/>
<circle cx="113.6" cy="200.4" r="1.0" fill="#000"/>
<circle cx="107.8" cy="202.5" r="1.0" fill="#000"/>
<circle cx="111.3" cy="206.0" r="1.0" fill="#000"/>
<circle cx="106.6" cy="207.2" r="1.0" fill="#000"/>
<circle cx="109.0" cy="207.0" r="1.0" fill="#000"/>
<circle cx="114.0" cy="210.7" r="1.0" fill="#000"/>
<circle cx="111.1" cy="212.1" r="1.0" fill="#000"/>
<circle cx="105.5" cy="211.9" r="1.0" fill="#000"/>
<circle cx="106.1" cy="213.6" r="1.0" fill="#000"/>
<circle cx="104.3" cy="217.1" r="1.0" fill="#000"/>
<circle cx="104.9" cy="218.6" r="1.0" fill="#000"/>
<circle cx="111.0" cy="219.8" r="1.0" fill="#000"/>
<circle cx="106.1" cy="223.0" r="1.0" fill="#000"/>
<circle cx="104.3" cy="223.8" r="1.0" fill="#000"/>
<circle cx="103.7" cy="226.5" r="1.0" fill="#000"/>
<circle cx="122.4" cy="227.0" r="1.0" fill="#000"/>
<circle cx="44.2" cy="259.0" r="1.0" fill="#000"/>
<circle cx="63.6" cy="259.0" r="1.0" fill="#000"/>
<circle cx="68.0" cy="252.5" r="1.0" fill="#000"/>
<circle cx="69.6" cy="253.0" r="1.0" fill="#000"/>
<circle cx="68.8" cy="263.4" r="1.0" fill="#000"/>
<circle cx="73.5" cy="262.0" r="1.0" fill="#000"/>
<circle cx="76.6" cy="262.5" r="1.0" fill="#000"/>
<circle cx="122.3" cy="228.6" r="1.0" fill="#000"/>
<circle cx="125.5" cy="245.2" r="1.0" fill="#000"/>
<circle cx="148.8" cy="243.9" r="1.0" fill="#000"/>
<circle cx="132.7" cy="250.6" r="1.0" fill="#000"/>
<circle cx="144.9" cy="255.0" r="1.0" fill="#000"/>
<circle cx="128.0" cy="258.4" r="1.0" fill="#000"/>
<circle cx="135.3" cy="259.0" r="1.0" fill="#000"/>
<circle cx="143.1" cy="259.5" r="1.0" fill="#000"/>
<circle cx="121.6" cy="262.9" r="1.0" fill="#000"/>
<circle cx="98.2" cy="222.9" r="1.0" fill="#000"/>
<circle cx="98.1" cy="235.6" r="1.0" fill="#000"/>
<circle cx="99.5" cy="243.9" r="1.0" fill="#000"/>
<circle cx="98.6" cy="219.4" r="1.0" fill="#000"/>
<circle cx="99.0" cy="262.8" r="1.0" fill="#000"/>
<circle cx="99.1" cy="271.2" r="1.0" fill="#000"/>
<circle cx="98.7" cy="237.4" r="1.0" fill="#000"/>
<circle cx="98.3" cy="248.1" r="1.0" fill="#000"/>
<circle cx="97.8" cy="220.9" r="1.0" fill="#000"/>
<circle cx="100.3" cy="248.3" r="1.0" fill="#000"/>
<circle cx="98.0" cy="251.0" r="1.0" fill="#000"/>
<circle cx="98.3" cy="226.2" r="1.0" fill="#000"/>
<circle cx="97.8" cy="253.0" r="1.0" fill="#000"/>
<circle cx="99.6" cy="231.7" r="1.0" fill="#000"/>
<circle cx="98.5" cy="262.5" r="1.0" fill="#000"/>
<circle cx="100.1" cy="265.6" r="1.0" fill="#000"/>
<circle cx="99.0" cy="248.1" r="1.0" fill="#000"/>
<circle cx="98.3" cy="258.7" r="1.0" fill="#000"/>
<circle cx="99.9" cy="242.8" r="1.0" fill="#000"/>
<circle cx="98.8" cy="258.1" r="1.0" fill="#000"/>
<circle cx="97.9" cy="249.0" r="1.0" fill="#000"/>
<circle cx="97.1" cy="240.9" r="1.0" fill="#000"/>
<circle cx="96.4" cy="271.1" r="1.0" fill="#000"/>
<circle cx="98.7" cy="255.4" r="1.0" fill="#000"/>
<circle cx="98.9" cy="272.8" r="1.0" fill="#000"/>
<circle cx="97.5" cy="253.5" r="1.0" fill="#000"/>
<circle cx="98.7" cy="241.2" r="1.0" fill="#000"/>
<circle cx="98.9" cy="259.3" r="1.0" fill="#000"/>
<circle cx="96.9" cy="228.6" r="1.0" fill="#000"/>
<circle cx="99.7" cy="240.5" r="1.0" fill="#000"/>
<circle cx="99.5" cy="266.1" r="1.0" fill="#000"/>
<circle cx="96.5" cy="238.5" r="1.0" fill="#000"/>
<circle cx="99.1" cy="266.2" r="1.0" fill="#000"/>
<circle cx="98.3" cy="227.7" r="1.0" fill="#000"/>
<circle cx="97.7" cy="242.6" r="1.0" fill="#000"/>
<circle cx="98.0" cy="238.7" r="1.0" fill="#000"/>
<circle cx="100.0" cy="247.4" r="1.0" fill="#000"/>
<circle cx="97.9" cy="250.4" r="1.0" fill="#000"/>
<circle cx="99.9" cy="239.9" r="1.0" fill="#000"/>
<circle cx="97.1" cy="265.9" r="1.0" fill="#000"/>
<circle cx="99.5" cy="237.5" r="1.0" fill="#000"/>
<circle cx="99.1" cy="218.0" r="1.0" fill="#000"/>
<circle cx="98.2" cy="223.6" r="1.0" fill="#000"/>
<circle cx="98.6" cy="222.9" r="1.0" fill="#000"/>
<circle cx="100.4" cy="235.5" r="1.0" fill="#000"/>
<circle cx="98.7" cy="243.2" r="1.0" fill="#000"/>
<circle cx="98.1" cy="234.5" r="1.0" fill="#000"/>
<circle cx="98.9" cy="272.8" r="1.0" fill="#000"/>
<circle cx="98.8" cy="242.5" r="1.0" fill="#000"/>
<circle cx="98.6" cy="229.6" r="1.0" fill="#000"/>
<circle cx="101.0" cy="243.7" r="1.0" fill="#000"/>
<circle cx="98.7" cy="222.6" r="1.0" fill="#000"/>
<circle cx="96.2" cy="215.6" r="1.0" fill="#000"/>
<circle cx="97.8" cy="262.4" r="1.0" fill="#000"/>
<circle cx="99.3" cy="235.6" r="1.0" fill="#000"/>
<circle cx="100.2" cy="260.0" r="1.0" fill="#000"/>
<circle cx="99.4" cy="227.2" r="1.0" fill="#000"/>
<circle cx="94.9" cy="266.2" r="1.0" fill="#000"/>
<circle cx="98.6" cy="263.9" r="1.0" fill="#000"/>
<circle cx="99.4" cy="215.7" r="1.0" fill="#000"/>
<circle cx="98.3" cy="230.5" r="1.0" fill="#000"/>
<circle cx="100.2" cy="253.7" r="1.0" fill="#000"/>
<circle cx="99.6" cy="272.6" r="1.0" fill="#000"/>
<circle cx="98.2" cy="227.4" r="1.0" fill="#000"/>
<circle cx="97.0" cy="226.1" r="1.0" fill="#000"/>
<circle cx="96.6" cy="254.8" r="1.0" fill="#000"/>
<circle cx="100.0" cy="266.0" r="1.0" fill="#000"/>
<circle cx="99.4" cy="265.4" r="1.0" fill="#000"/>
<circle cx="99.3" cy="254.7" r="1.0" fill="#000"/>
<circle cx="100.4" cy="261.2" r="1.0" fill="#000"/>
<circle cx="96.1" cy="251.9" r="1.0" fill="#000"/>
<circle cx="99.9" cy="244.0" r="1.0" fill="#000"/>
<circle cx="99.7" cy="222.9" r="1.0" fill="#000"/>
<circle cx="97.1" cy="262.8" r="1.0" fill="#000"/>
<circle cx="97.5" cy="261.0" r="1.0" fill="#000"/>
<circle cx="99.2" cy="214.8" r="1.0" fill="#000"/>
<circle cx="95.5" cy="260.7" r="1.0" fill="#000"/>
<circle cx="97.9" cy="265.4" r="1.0" fill="#000"/>
<circle cx="98.4" cy="245.4" r="1.0" fill="#000"/>
<circle cx="99.3" cy="248.6" r="1.0" fill="#000"/>
<circle cx="99.9" cy="238.7" r="1.0" fill="#000"/>
<circle cx="100.1" cy="241.0" r="1.0" fill="#000"/>
<circle cx="95.8" cy="267.4" r="1.0" fill="#000"/>
<circle cx="99.6" cy="245.4" r="1.0" fill="#000"/>
<circle cx="97.9" cy="215.1" r="1.0" fill="#000"/>
<circle cx="98.7" cy="261.2" r="1.0" fill="#000"/>
<circle cx="98.2" cy="241.9" r="1.0" fill="#000"/>
<circle cx="97.0" cy="244.6" r="1.0" fill="#000"/>
<circle cx="99.7" cy="260.3" r="1.0" fill="#000"/>
<circle cx="99.1" cy="230.3" r="1.0" fill="#000"/>
<circle cx="96.5" cy="255.8" r="1.0" fill="#000"/>
<circle cx="97.6" cy="253.5" r="1.0" fill="#000"/>
<circle cx="96.6" cy="255.7" r="1.0" fill="#000"/>
<circle cx="98.3" cy="245.5" r="1.0" fill="#000"/>
<circle cx="97.5" cy="269.5" r="1.0" fill="#000"/>
<circle cx="96.2" cy="247.1" r="1.0" fill="#000"/>
<circle cx="98.8" cy="269.7" r="1.0" fill="#000"/>
<circle cx="97.9" cy="240.1" r="1.0" fill="#000"/>
<circle cx="99.6" cy="228.2" r="1.0" fill="#000"/>
<circle cx="99.3" cy="269.4" r="1.0" fill="#000"/>
<circle cx="98.0" cy="256.3" r="1.0" fill="#000"/>
<circle cx="97.8" cy="271.9" r="1.0" fill="#000"/>
<circle cx="97.2" cy="270.2" r="1.0" fill="#000"/>
<circle cx="99.3" cy="267.1" r="1.0" fill="#000"/>
<circle cx="97.5" cy="239.5" r="1.0" fill="#000"/>
<circle cx="98.3" cy="232.8" r="1.0" fill="#000"/>
<circle cx="97.4" cy="238.7" r="1.0" fill="#000"/>
<circle cx="98.0" cy="233.6" r="1.0" fill="#000"/>
<circle cx="101.6" cy="255.9" r="1.0" fill="#000"/>
<circle cx="100.0" cy="272.0" r="1.0" fill="#000"/>
<circle cx="100.0" cy="229.7" r="1.0" fill="#000"/>
<circle cx="98.8" cy="221.6" r="1.0" fill="#000"/>
<circle cx="98.8" cy="267.8" r="1.0" fill="#000"/>
<circle cx="97.5" cy="268.2" r="1.0" fill="#000"/>
<circle cx="98.7" cy="255.3" r="1.0" fill="#000"/>
<circle cx="98.6" cy="252.9" r="1.0" fill="#000"/>
<circle cx="96.8" cy="269.4" r="1.0" fill="#000"/>
<circle cx="96.7" cy="264.5" r="1.0" fill="#000"/>
<circle cx="97.3" cy="264.9" r="1.0" fill="#000"/>
<circle cx="98.7" cy="268.7" r="1.0" fill="#000"/>
<circle cx="97.8" cy="221.6" r="1.0" fill="#000"/>
<circle cx="98.3" cy="223.5" r="1.0" fill="#000"/>
<circle cx="98.1" cy="225.9" r="1.0" fill="#000"/>
<circle cx="99.3" cy="248.1" r="1.0" fill="#000"/>
<circle cx="98.3" cy="224.5" r="1.0" fill="#000"/>
<circle cx="98.5" cy="214.9" r="1.0" fill="#000"/>
<circle cx="98.9" cy="257.3" r="1.0" fill="#000"/>
<circle cx="99.5" cy="241.7" r="1.0" fill="#000"/>
<circle cx="96.2" cy="253.1" r="1.0" fill="#000"/>
<circle cx="98.5" cy="243.9" r="1.0" fill="#000"/>
<circle cx="108.0" cy="257.8" r="1.0" fill="#000"/>
<circle cx="99.0" cy="265.3" r="1.0" fill="#000"/>
<circle cx="94.0" cy="258.7" r="1.0" fill="#000"/>
<circle cx="95.4" cy="240.1" r="1.0" fill="#000"/>
<circle cx="100.9" cy="224.8" r="1.0" fill="#000"/>
<circle cx="102.6" cy="260.5" r="1.0" fill="#000"/>
<circle cx="101.1" cy="235.3" r="1.0" fill="#000"/>
<circle cx="103.4" cy="265.7" r="1.0" fill="#000"/>
<circle cx="96.3" cy="267.3" r="1.0" fill="#000"/>
<circle cx="96.4" cy="234.6" r="1.0" fill="#000"/>
<circle cx="96.9" cy="237.2" r="1.0" fill="#000"/>
<circle cx="101.0" cy="245.2" r="1.0" fill="#000"/>
<circle cx="113.6" cy="235.7" r="1.0" fill="#000"/>
<circle cx="95.1" cy="250.4" r="1.0" fill="#000"/>
<circle cx="104.3" cy="234.7" r="1.0" fill="#000"/>
<circle cx="98.9" cy="240.5" r="1.0" fill="#000"/>
<circle cx="97.5" cy="222.1" r="1.0" fill="#000"/>
<circle cx="105.6" cy="248.1" r="1.0" fill="#000"/>
<circle cx="99.5" cy="232.5" r="1.0" fill="#000"/>
<circle cx="100.0" cy="235.7" r="1.0" fill="#000"/>
<circle cx="99.1" cy="226.7" r="1.0" fill="#000"/>
<circle cx="100.5" cy="223.2" r="1.0" fill="#000"/>
<circle cx="100.8" cy="237.8" r="1.0" fill="#000"/>
<circle cx="109.9" cy="249.5" r="1.0" fill="#000"/>
<circle cx="91.9" cy="261.0" r="1.0" fill="#000"/>
<circle cx="91.6" cy="242.3" r="1.0" fill="#000"/>
<circle cx="110.9" cy="229.8" r="1.0" fill="#000"/>
<circle cx="98.3" cy="259.7" r="1.0" fill="#000"/>
<circle cx="97.8" cy="265.4" r="1.0" fill="#000"/>
<circle cx="88.9" cy="264.2" r="1.0" fill="#000"/>
<circle cx="95.1" cy="229.2" r="1.0" fill="#000"/>
<circle cx="98.3" cy="265.4" r="1.0" fill="#000"/>
<circle cx="105.8" cy="263.8" r="1.0" fill="#000"/>
<circle cx="97.8" cy="257.5" r="1.0" fill="#000"/>
<circle cx="97.8" cy="223.6" r="1.0" fill="#000"/>
<circle cx="98.8" cy="228.9" r="1.0" fill="#000"/>
<circle cx="103.4" cy="265.5" r="1.0" fill="#000"/>
<circle cx="92.5" cy="251.0" r="1.0" fill="#000"/>
<circle cx="91.2" cy="257.4" r="1.0" fill="#000"/>
<circle cx="112.8" cy="247.4" r="1.0" fill="#000"/>
<circle cx="100.3" cy="260.9" r="1.0" fill="#000"/>
<circle cx="89.6" cy="248.2" r="1.0" fill="#000"/>
<circle cx="98.9" cy="225.4" r="1.0" fill="#000"/>
<circle cx="99.9" cy="260.3" r="1.0" fill="#000"/>
<circle cx="102.1" cy="235.8" r="1.0" fill="#000"/>
<circle cx="104.2" cy="259.9" r="1.0" fill="#000"/>
<circle cx="93.9" cy="247.7" r="1.0" fill="#000"/>
<circle cx="106.7" cy="257.6" r="1.0" fill="#000"/>
<circle cx="89.9" cy="261.9" r="1.0" fill="#000"/>
<circle cx="96.5" cy="226.0" r="1.0" fill="#000"/>
<circle cx="99.8" cy="229.7" r="1.0" fill="#000"/>
<circle cx="109.2" cy="237.8" r="1.0" fill="#000"/>
<circle cx="102.8" cy="251.5" r="1.0" fill="#000"/>
<circle cx="100.1" cy="236.0" r="1.0" fill="#000"/>
<circle cx="95.4" cy="256.9" r="1.0" fill="#000"/>
<circle cx="92.3" cy="237.1" r="1.0" fill="#000"/>
<circle cx="91.9" cy="248.9" r="1.0" fill="#000"/>
<circle cx="101.0" cy="228.2" r="1.0" fill="#000"/>
<circle cx="108.2" cy="268.5" r="1.0" fill="#000"/>
<circle cx="94.4" cy="222.9" r="1.0" fill="#000"/>
<circle cx="99.5" cy="245.4" r="1.0" fill="#000"/>
<circle cx="97.7" cy="233.0" r="1.0" fill="#000"/>
<circle cx="98.0" cy="249.3" r="1.0" fill="#000"/>
<circle cx="110.0" cy="248.5" r="1.0" fill="#000"/>
<circle cx="98.0" cy="268.1" r="1.0" fill="#000"/>
<circle cx="93.4" cy="268.7" r="1.0" fill="#000"/>
<circle cx="100.6" cy="247.3" r="1.0" fill="#000"/>
<circle cx="100.1" cy="247.6" r="1.0" fill="#000"/>
<circle cx="98.8" cy="245.4" r="1.0" fill="#000"/>
<circle cx="103.1" cy="239.9" r="1.0" fill="#000"/>
<circle cx="100.2" cy="238.4" r="1.0" fill="#000"/>
<circle cx="99.5" cy="261.0" r="1.0" fill="#000"/>
<circle cx="115.8" cy="265.6" r="1.0" fill="#000"/>
<circle cx="114.1" cy="259.1" r="1.0" fill="#000"/>
<circle cx="97.7" cy="268.9" r="1.0" fill="#000"/>
<circle cx="105.9" cy="242.4" r="1.0" fill="#000"/>
<circle cx="96.7" cy="244.3" r="1.0" fill="#000"/>
<circle cx="102.4" cy="236.3" r="1.0" fill="#000"/>
<circle cx="101.3" cy="265.4" r="1.0" fill="#000"/>
<circle cx="103.8" cy="236.9" r="1.0" fill="#000"/>
<circle cx="98.4" cy="235.8" r="1.0" fill="#000"/>
<circle cx="102.6" cy="248.6" r="1.0" fill="#000"/>
<circle cx="105.1" cy="268.0" r="1.0" fill="#000"/>
<circle cx="98.3" cy="224.6" r="1.0" fill="#000"/>
<circle cx="85.4" cy="260.1" r="1.0" fill="#000"/>
<circle cx="104.3" cy="255.5" r="1.0" fill="#000"/>
<circle cx="111.8" cy="236.9" r="1.0" fill="#000"/>
<circle cx="102.8" cy="228.6" r="1.0" fill="#000"/>
<circle cx="96.7" cy="246.6" r="1.0" fill="#000"/>
<circle cx="106.5" cy="260.4" r="1.0" fill="#000"/>
<circle cx="108.1" cy="237.6" r="1.0" fill="#000"/>
<circle cx="96.3" cy="251.0" r="1.0" fill="#000"/>
<circle cx="101.6" cy="230.4" r="1.0" fill="#000"/>
<circle cx="104.6" cy="232.8" r="1.0" fill="#000"/>
<circle cx="96.8" cy="233.4" r="1.0" fill="#000"/>
<circle cx="99.9" cy="229.3" r="1.0" fill="#000"/>
<circle cx="103.6" cy="232.0" r="1.0" fill="#000"/>
<circle cx="101.9" cy="226.7" r="1.0" fill="#000"/>
<circle cx="99.7" cy="234.4" r="1.0" fill="#000"/>
<circle cx="91.8" cy="261.0" r="1.0" fill="#000"/>
<circle cx="104.0" cy="249.3" r="1.0" fill="#000"/>
<circle cx="98.8" cy="241.6" r="1.0" fill="#000"/>
<circle cx="101.6" cy="236.4" r="1.0" fill="#000"/>
<circle cx="107.0" cy="254.7" r="1.0" fill="#000"/>
<circle cx="101.6" cy="266.9" r="1.0" fill="#000"/>
<circle cx="104.0" cy="234.9" r="1.0" fill="#000"/>
<circle cx="85.1" cy="242.8" r="1.0" fill="#000"/>
<circle cx="107.9" cy="266.1" r="1.0" fill="#000"/>
<circle cx="102.4" cy="267.4" r="1.0" fill="#000"/>
<circle cx="100.3" cy="258.9" r="1.0" fill="#000"/>
<circle cx="100.7" cy="222.0" r="1.0" fill="#000"/>
<circle cx="110.6" cy="242.4" r="1.0" fill="#000"/>
<circle cx="92.1" cy="266.5" r="1.0" fill="#000"/>
<circle cx="100.0" cy="272.6" r="1.0" fill="#000"/>
<circle cx="102.1" cy="230.0" r="1.0" fill="#000"/>
<circle cx="92.7" cy="249.2" r="1.0" fill="#000"/>
<circle cx="80.3" cy="259.5" r="1.0" fill="#000"/>
<circle cx="100.9" cy="255.7" r="1.0" fill="#000"/>
<circle cx="91.6" cy="250.7" r="1.0" fill="#000"/>
<circle cx="100.5" cy="224.1" r="1.0" fill="#000"/>
<circle cx="98.5" cy="255.6" r="1.0" fill="#000"/>
<circle cx="102.5" cy="235.1" r="1.0" fill="#000"/>
<circle cx="98.7" cy="255.1" r="1.0" fill="#000"/>
<circle cx="98.3" cy="225.7" r="1.0" fill="#000"/>
<circle cx="93.6" cy="249.3" r="1.0" fill="#000"/>
<circle cx="97.6" cy="233.6" r="1.0" fill="#000"/>
<circle cx="106.8" cy="253.3" r="1.0" fill="#000"/>
<circle cx="100.4" cy="246.0" r="1.0" fill="#000"/>
<circle cx="88.5" cy="246.7" r="1.0" fill="#000"/>
<circle cx="100.2" cy="234.2" r="1.0" fill="#000"/>
<circle cx="122.8" cy="258.6" r="1.0" fill="#000"/>
<circle cx="106.5" cy="238.0" r="1.0" fill="#000"/>
<circle cx="101.4" cy="257.1" r="1.0" fill="#000"/>
<circle cx="99.6" cy="243.8" r="1.0" fill="#000"/>
<circle cx="104.4" cy="233.8" r="1.0" fill="#000"/>
<circle cx="101.3" cy="243.9" r="1.0" fill="#000"/>
<circle cx="105.0" cy="257.5" r="1.0" fill="#000"/>
<circle cx="115.6" cy="260.4" r="1.0" fill="#000"/>
<circle cx="105.3" cy="248.3" r="1.0" fill="#000"/>
<circle cx="114.3" cy="238.2" r="1.0" fill="#000"/>
<circle cx="100.8" cy="264.6" r="1.0" fill="#000"/>
<circle cx="106.6" cy="261.5" r="1.0" fill="#000"/>
<circle cx="106.1" cy="237.3" r="1.0" fill="#000"/>
<circle cx="98.4" cy="231.7" r="1.0" fill="#000"/>
<circle cx="93.7" cy="233.6" r="1.0" fill="#000"/>
<circle cx="97.7" cy="229.6" r="1.0" fill="#000"/>
<circle cx="101.4" cy="229.4" r="1.0" fill="#000"/>
<circle cx="100.7" cy="242.5" r="1.0" fill="#000"/>
<circle cx="97.1" cy="270.4" r="1.0" fill="#000"/>
<circle cx="105.3" cy="270.7" r="1.0" fill="#000"/>
<circle cx="113.5" cy="260.8" r="1.0" fill="#000"/>
<circle cx="101.8" cy="241.7" r="1.0" fill="#000"/>
<circle cx="98.2" cy="241.4" r="1.0" fill="#000"/>
<circle cx="101.6" cy="222.1" r="1.0" fill="#000"/>
<circle cx="92.0" cy="236.5" r="1.0" fill="#000"/>
<circle cx="108.1" cy="228.4" r="1.0" fill="#000"/>
<circle cx="102.4" cy="272.1" r="1.0" fill="#000"/>
<circle cx="108.6" cy="264.7" r="1.0" fill="#000"/>
<circle cx="97.2" cy="264.7" r="1.0" fill="#000"/>
<circle cx="100.9" cy="246.6" r="1.0" fill="#000"/>
<circle cx="103.5" cy="241.4" r="1.0" fill="#000"/>
<circle cx="98.1" cy="240.9" r="1.0" fill="#000"/>
<circle cx="109.6" cy="268.6" r="1.0" fill="#000"/>
<circle cx="101.8" cy="264.2" r="1.0" fill="#000"/>
<circle cx="102.4" cy="261.9" r="1.0" fill="#000"/>
<circle cx="100.2" cy="225.3" r="1.0" fill="#000"/>
<circle cx="99.3" cy="269.8" r="1.0" fill="#000"/>
<circle cx="97.9" cy="239.6" r="1.0" fill="#000"/>
<circle cx="120.5" cy="254.1" r="1.0" fill="#000"/>
<circle cx="99.1" cy="235.6" r="1.0" fill="#000"/>
<circle cx="95.5" cy="236.3" r="1.0" fill="#000"/>
<circle cx="100.2" cy="222.2" r="1.0" fill="#000"/>
<circle cx="81.4" cy="255.0" r="1.0" fill="#000"/>
<circle cx="100.8" cy="246.7" r="1.0" fill="#000"/>
<circle cx="98.6" cy="235.1" r="1.0" fill="#000"/>
<circle cx="84.8" cy="244.4" r="1.0" fill="#000"/>
<circle cx="100.4" cy="231.5" r="1.0" fill="#000"/>
<circle cx="98.7" cy="263.7" r="1.0" fill="#000"/>
<circle cx="82.4" cy="262.2" r="1.0" fill="#000"/>
<circle cx="96.6" cy="253.6" r="1.0" fill="#000"/>
<circle cx="104.7" cy="240.8" r="1.0" fill="#000"/>
<circle cx="105.5" cy="262.7" r="1.0" fill="#000"/>
<circle cx="103.0" cy="261.2" r="1.0" fill="#000"/>
<circle cx="101.2" cy="234.9" r="1.0" fill="#000"/>
<circle cx="100.8" cy="250.7" r="1.0" fill="#000"/>
<circle cx="111.8" cy="238.9" r="1.0" fill="#000"/>
<circle cx="102.0" cy="235.8" r="1.0" fill="#000"/>
<circle cx="101.6" cy="247.9" r="1.0" fill="#000"/>
<circle cx="93.8" cy="258.9" r="1.0" fill="#000"/>
<circle cx="101.6" cy="243.7" r="1.0" fill="#000"/>
<circle cx="93.7" cy="254.3" r="1.0" fill="#000"/>
<circle cx="86.0" cy="266.0" r="1.0" fill="#000"/>
<circle cx="112.0" cy="256.6" r="1.0" fill="#000"/>
<circle cx="107.3" cy="237.3" r="1.0" fill="#000"/>
<circle cx="91.1" cy="251.5" r="1.0" fill="#000"/>
<circle cx="105.5" cy="232.4" r="1.0" fill="#000"/>
<circle cx="100.1" cy="234.9" r="1.0" fill="#000"/>
<circle cx="105.5" cy="268.0" r="1.0" fill="#000"/>
<circle cx="96.3" cy="252.1" r="1.0" fill="#000"/>
<circle cx="101.5" cy="248.4" r="1.0" fill="#000"/>
<circle cx="105.7" cy="269.9" r="1.0" fill="#000"/>
<circle cx="100.0" cy="264.8" r="1.0" fill="#000"/>
<circle cx="104.7" cy="270.3" r="1.0" fill="#000"/>
<circle cx="90.9" cy="264.7" r="1.0" fill="#000"/>
<circle cx="112.7" cy="264.9" r="1.0" fill="#000"/>
<circle cx="93.1" cy="257.5" r="1.0" fill="#000"/>
<circle cx="93.0" cy="268.1" r="1.0" fill="#000"/>
<circle cx="99.9" cy="271.0" r="1.0" fill="#000"/>
<circle cx="101.4" cy="272.2" r="1.0" fill="#000"/>
<circle cx="99.8" cy="270.6" r="1.0" fill="#000"/>
<circle cx="91.3" cy="265.2" r="1.0" fill="#000"/>
<circle cx="95.3" cy="266.9" r="1.0" fill="#000"/>
<circle cx="101.5" cy="267.4" r="1.0" fill="#000"/>
<circle cx="99.9" cy="259.9" r="1.0" fill="#000"/>
<circle cx="98.7" cy="269.4" r="1.0" fill="#000"/>
<circle cx="112.5" cy="265.6" r="1.0" fill="#000"/>
<circle cx="91.1" cy="267.4" r="1.0" fill="#000"/>
<circle cx="85.0" cy="263.4" r="1.0" fill="#000"/>
<circle cx="109.9" cy="266.1" r="1.0" fill="#000"/>
<circle cx="94.8" cy="265.8" r="1.0" fill="#000"/>
<circle cx="109.0" cy="267.1" r="1.0" fill="#000"/>
<circle cx="100.8" cy="269.5" r="1.0" fill="#000"/>
<circle cx="107.5" cy="263.1" r="1.0" fill="#000"/>
<circle cx="102.7" cy="260.2" r="1.0" fill="#000"/>
<circle cx="101.6" cy="261.7" r="1.0" fill="#000"/>
<circle cx="97.2" cy="267.1" r="1.0" fill="#000"/>
<circle cx="109.0" cy="267.9" r="1.0" fill="#000"/>
<circle cx="97.7" cy="264.1" r="1.0" fill="#000"/>
<circle cx="96.7" cy="267.8" r="1.0" fill="#000"/>
<circle cx="99.9" cy="266.9" r="1.0" fill="#000"/>
<circle cx="107.9" cy="263.7" r="1.0" fill="#000"/>
<circle cx="86.0" cy="265.6" r="1.0" fill="#000"/>
<circle cx="102.8" cy="270.2" r="1.0" fill="#000"/>
<circle cx="99.7" cy="267.7" r="1.0" fill="#000"/>
<circle cx="100.8" cy="268.6" r="1.0" fill="#000"/>
<circle cx="100.5" cy="266.3" r="1.0" fill="#000"/>
<circle cx="100.2" cy="271.8" r="1.0" fill="#000"/>
<circle cx="99.7" cy="269.7" r="1.0" fill="#000"/>
<circle cx="101.0" cy="272.1" r="1.0" fill="#000"/>
<circle cx="108.3" cy="266.4" r="1.0" fill="#000"/>
<circle cx="95.4" cy="258.1" r="1.0" fill="#000"/>
<circle cx="89.2" cy="245.2" r="1.0" fill="#000"/>
<circle cx="108.2" cy="268.4" r="1.0" fill="#000"/>
<circle cx="115.5" cy="256.2" r="1.0" fill="#000"/>
<circle cx="90.1" cy="257.2" r="1.0" fill="#000"/>
<circle cx="90.3" cy="267.2" r="1.0" fill="#000"/>
<circle cx="111.1" cy="267.4" r="1.0" fill="#000"/>
<circle cx="100.9" cy="271.5" r="1.0" fill="#000"/>
<circle cx="98.4" cy="271.3" r="1.0" fill="#000"/>
<circle cx="91.3" cy="263.8" r="1.0" fill="#000"/>
<circle cx="110.7" cy="267.7" r="1.0" fill="#000"/>
<circle cx="101.2" cy="264.1" r="1.0" fill="#000"/>
<circle cx="102.4" cy="271.4" r="1.0" fill="#000"/>
<circle cx="107.0" cy="263.4" r="1.0" fill="#000"/>
<circle cx="93.3" cy="265.8" r="1.0" fill="#000"/>
<circle cx="96.3" cy="268.2" r="1.0" fill="#000"/>
<circle cx="90.5" cy="267.8" r="1.0" fill="#000"/>
<circle cx="107.3" cy="253.1" r="1.0" fill="#000"/>
<circle cx="101.7" cy="272.1" r="1.0" fill="#000"/>
<circle cx="91.6" cy="266.2" r="1.0" fill="#000"/>
<circle cx="101.2" cy="271.8" r="1.0" fill="#000"/>
<circle cx="100.6" cy="272.4" r="1.0" fill="#000"/>
<circle cx="99.1" cy="270.8" r="1.0" fill="#000"/>
<circle cx="101.3" cy="268.4" r="1.0" fill="#000"/>
<circle cx="100.0" cy="271.1" r="1.0" fill="#000"/>
<circle cx="93.6" cy="261.2" r="1.0" fill="#000"/>
<circle cx="103.2" cy="271.4" r="1.0" fill="#000"/>
<circle cx="102.4" cy="267.6" r="1.0" fill="#000"/>
<circle cx="99.0" cy="266.4" r="1.0" fill="#000"/>
<circle cx="92.8" cy="268.8" r="1.0" fill="#000"/>
<line x1="78.40" y1="163.20" x2="78.40" y2="277.10" stroke="#ff5555" stroke-width="0.8" />
<line x1="124.20" y1="163.20" x2="124.20" y2="277.10" stroke="#ff5555" stroke-width="0.8" />
<line x1="32.50" y1="239.30" x2="170.40" y2="239.30" stroke="#ff5555" stroke-width="0.8" />
<text x="29.00" y="175.20" font-size="9" text-anchor="end" fill="#1a1a1a" stroke="#1a1a1a" stroke-width="0.3" font-weight="normal" >4</text>
<text x="29.00" y="199.40" font-size="9" text-anchor="end" fill="#1a1a1a" stroke="#1a1a1a" stroke-width="0.3" font-weight="normal" >3</text>
<text x="29.00" y="223.60" font-size="9" text-anchor="end" fill="#1a1a1a" stroke="#1a1a1a" stroke-width="0.3" font-weight="normal" >2</text>
<text x="29.00" y="247.80" font-size="9" text-anchor="end" fill="#1a1a1a" stroke="#1a1a1a" stroke-width="0.3" font-weight="normal" >1</text>
<text x="29.00" y="272.00" font-size="9" text-anchor="end" fill="#1a1a1a" stroke="#1a1a1a" stroke-width="0.3" font-weight="normal" >0</text>
<text x="38.20" y="286.00" font-size="9" text-anchor="middle" fill="#1a1a1a" stroke="#1a1a1a" stroke-width="0.3" font-weight="normal" >-6</text>
<text x="69.25" y="286.00" font-size="9" text-anchor="middle" fill="#1a1a1a" stroke="#1a1a1a" stroke-width="0.3" font-weight="normal" >-3</text>
<text x="101.50" y="286.00" font-size="9" text-anchor="middle" fill="#1a1a1a" stroke="#1a1a1a" stroke-width="0.3" font-weight="normal" >0</text>
<text x="132.55" y="286.00" font-size="9" text-anchor="middle" fill="#1a1a1a" stroke="#1a1a1a" stroke-width="0.3" font-weight="normal" >3</text>
<text x="163.60" y="286.00" font-size="9" text-anchor="middle" fill="#1a1a1a" stroke="#1a1a1a" stroke-width="0.3" font-weight="normal" >6</text>
<text x="99.80" y="296.80" font-size="9.2" text-anchor="middle" fill="#1a1a1a" stroke="#1a1a1a" stroke-width="0.3" font-weight="normal" textLength="69.00" lengthAdjust="spacingAndGlyphs" >Log2 fold change</text>
<text x="16.80" y="223.00" font-size="9.2" text-anchor="middle" fill="#1a1a1a" stroke="#1a1a1a" stroke-width="0.3" font-weight="normal" textLength="60.00" lengthAdjust="spacingAndGlyphs" transform="rotate(-90 16.80 223.00)" >-Log10 p-value</text>
<circle cx="66.2" cy="226.6" r="1.1" fill="#1f1fff"/>
<circle cx="77" cy="238.7" r="1.1" fill="#1f1fff"/>
<circle cx="134" cy="196.8" r="1.1" fill="#ff0000"/>
<circle cx="126.8" cy="229" r="1.1" fill="#ff0000"/>
<circle cx="133.8" cy="235" r="1.1" fill="#ff0000"/>
<circle cx="134.5" cy="237.7" r="1.1" fill="#ff0000"/>
<text x="53.20" y="228.00" font-size="7" text-anchor="start" fill="#1f1fff" stroke="#1f1fff" stroke-width="0.3" font-weight="normal" textLength="10.40" lengthAdjust="spacingAndGlyphs" >Gfi1</text>
<text x="55.80" y="239.50" font-size="7" text-anchor="start" fill="#1f1fff" stroke="#1f1fff" stroke-width="0.3" font-weight="normal" textLength="19.00" lengthAdjust="spacingAndGlyphs" >Cmklr1</text>
<text x="136.60" y="196.20" font-size="7" text-anchor="start" fill="#ff0000" stroke="#ff0000" stroke-width="0.3" font-weight="normal" textLength="13.00" lengthAdjust="spacingAndGlyphs" >Birc5</text>
<text x="127.50" y="225.20" font-size="7" text-anchor="start" fill="#ff0000" stroke="#ff0000" stroke-width="0.3" font-weight="normal" textLength="14.80" lengthAdjust="spacingAndGlyphs" >Cxcr3</text>
<text x="132.70" y="232.50" font-size="7" text-anchor="start" fill="#ff0000" stroke="#ff0000" stroke-width="0.3" font-weight="normal" textLength="14.30" lengthAdjust="spacingAndGlyphs" >Ccl22</text>
<text x="136.60" y="238.70" font-size="7" text-anchor="start" fill="#ff0000" stroke="#ff0000" stroke-width="0.3" font-weight="normal" textLength="20.00" lengthAdjust="spacingAndGlyphs" >S100a8</text>
<text x="204.00" y="161.80" font-size="16.2" text-anchor="start" fill="#1a1a1a" stroke="#1a1a1a" stroke-width="0.5" font-weight="normal" >g</text>
<line x1="237.60" y1="182.40" x2="237.60" y2="275.30" stroke="#8a8a8a" stroke-width="0.9" />
<line x1="233.60" y1="182.40" x2="237.60" y2="182.40" stroke="#444" stroke-width="0.7" />
<text x="232.00" y="185.41" font-size="8.6" text-anchor="end" fill="#1a1a1a" stroke="#1a1a1a" stroke-width="0.3" font-weight="normal" >100</text>
<line x1="233.60" y1="200.98" x2="237.60" y2="200.98" stroke="#444" stroke-width="0.7" />
<text x="232.00" y="203.99" font-size="8.6" text-anchor="end" fill="#1a1a1a" stroke="#1a1a1a" stroke-width="0.3" font-weight="normal" >80</text>
<line x1="233.60" y1="219.56" x2="237.60" y2="219.56" stroke="#444" stroke-width="0.7" />
<text x="232.00" y="222.57" font-size="8.6" text-anchor="end" fill="#1a1a1a" stroke="#1a1a1a" stroke-width="0.3" font-weight="normal" >60</text>
<line x1="233.60" y1="238.14" x2="237.60" y2="238.14" stroke="#444" stroke-width="0.7" />
<text x="232.00" y="241.15" font-size="8.6" text-anchor="end" fill="#1a1a1a" stroke="#1a1a1a" stroke-width="0.3" font-weight="normal" >40</text>
<line x1="233.60" y1="256.72" x2="237.60" y2="256.72" stroke="#444" stroke-width="0.7" />
<text x="232.00" y="259.73" font-size="8.6" text-anchor="end" fill="#1a1a1a" stroke="#1a1a1a" stroke-width="0.3" font-weight="normal" >20</text>
<line x1="233.60" y1="275.30" x2="237.60" y2="275.30" stroke="#444" stroke-width="0.7" />
<text x="232.00" y="278.31" font-size="8.6" text-anchor="end" fill="#1a1a1a" stroke="#1a1a1a" stroke-width="0.3" font-weight="normal" >0</text>
<line x1="233.60" y1="275.30" x2="343.80" y2="275.30" stroke="#333" stroke-width="0.8" />
<line x1="254.00" y1="275.30" x2="254.00" y2="278.70" stroke="#555" stroke-width="0.7" />
<line x1="278.40" y1="275.30" x2="278.40" y2="278.70" stroke="#555" stroke-width="0.7" />
<line x1="302.80" y1="275.30" x2="302.80" y2="278.70" stroke="#555" stroke-width="0.7" />
<line x1="327.10" y1="275.30" x2="327.10" y2="278.70" stroke="#555" stroke-width="0.7" />
<path d="M246.20 275.30V259.20H261.70V275.30" fill="none" stroke="#1a1a1a" stroke-width="0.7"/>
<path d="M270.30 275.30V203.80H286.20V275.30" fill="none" stroke="#1a1a1a" stroke-width="0.7"/>
<path d="M295.20 275.30V206.20H311.00V275.30" fill="none" stroke="#1a1a1a" stroke-width="0.7"/>
<path d="M319.40 275.30V211.30H334.20V275.30" fill="none" stroke="#ff0000" stroke-width="0.6"/>
<line x1="254.00" y1="248.00" x2="254.00" y2="270.70" stroke="#1a1a1a" stroke-width="0.7" />
<line x1="250.00" y1="248.00" x2="258.00" y2="248.00" stroke="#1a1a1a" stroke-width="0.7" />
<line x1="250.00" y1="270.70" x2="258.00" y2="270.70" stroke="#1a1a1a" stroke-width="0.7" />
<line x1="278.20" y1="191.60" x2="278.20" y2="216.60" stroke="#1a1a1a" stroke-width="0.7" />
<line x1="274.00" y1="191.60" x2="282.40" y2="191.60" stroke="#1a1a1a" stroke-width="0.7" />
<line x1="274.00" y1="216.60" x2="282.40" y2="216.60" stroke="#1a1a1a" stroke-width="0.7" />
<line x1="303.00" y1="193.70" x2="303.00" y2="218.20" stroke="#1a1a1a" stroke-width="0.7" />
<line x1="298.80" y1="193.70" x2="307.20" y2="193.70" stroke="#1a1a1a" stroke-width="0.7" />
<line x1="298.80" y1="218.20" x2="307.20" y2="218.20" stroke="#1a1a1a" stroke-width="0.7" />
<line x1="327.00" y1="198.00" x2="327.00" y2="224.50" stroke="#ff0000" stroke-width="0.6" />
<line x1="322.80" y1="198.00" x2="331.20" y2="198.00" stroke="#ff0000" stroke-width="0.6" />
<line x1="322.80" y1="224.50" x2="331.20" y2="224.50" stroke="#ff0000" stroke-width="0.6" />
<circle cx="254.00" cy="238.20" r="1.6" fill="none" stroke="#1a1a1a" stroke-width="0.7"/>
<circle cx="254.00" cy="251.70" r="1.6" fill="none" stroke="#1a1a1a" stroke-width="0.7"/>
<circle cx="250.90" cy="256.00" r="1.6" fill="none" stroke="#1a1a1a" stroke-width="0.7"/>
<circle cx="257.00" cy="256.00" r="1.6" fill="none" stroke="#1a1a1a" stroke-width="0.7"/>
<circle cx="254.00" cy="262.50" r="1.6" fill="none" stroke="#1a1a1a" stroke-width="0.7"/>
<circle cx="254.00" cy="266.60" r="1.6" fill="none" stroke="#1a1a1a" stroke-width="0.7"/>
<circle cx="254.00" cy="269.40" r="1.6" fill="none" stroke="#1a1a1a" stroke-width="0.7"/>
<circle cx="254.00" cy="272.60" r="1.6" fill="none" stroke="#1a1a1a" stroke-width="0.7"/>
<circle cx="278.20" cy="187.70" r="1.6" fill="none" stroke="#1a1a1a" stroke-width="0.7"/>
<circle cx="275.00" cy="191.60" r="1.6" fill="none" stroke="#1a1a1a" stroke-width="0.7"/>
<circle cx="281.80" cy="191.60" r="1.6" fill="none" stroke="#1a1a1a" stroke-width="0.7"/>
<circle cx="278.20" cy="197.70" r="1.6" fill="none" stroke="#1a1a1a" stroke-width="0.7"/>
<circle cx="278.20" cy="205.70" r="1.6" fill="none" stroke="#1a1a1a" stroke-width="0.7"/>
<circle cx="278.20" cy="208.90" r="1.6" fill="none" stroke="#1a1a1a" stroke-width="0.7"/>
<circle cx="278.20" cy="214.50" r="1.6" fill="none" stroke="#1a1a1a" stroke-width="0.7"/>
<circle cx="278.20" cy="225.40" r="1.6" fill="none" stroke="#1a1a1a" stroke-width="0.7"/>
<circle cx="300.20" cy="189.60" r="1.6" fill="none" stroke="#1a1a1a" stroke-width="0.7"/>
<circle cx="305.00" cy="189.60" r="1.6" fill="none" stroke="#1a1a1a" stroke-width="0.7"/>
<circle cx="295.70" cy="195.30" r="1.6" fill="none" stroke="#1a1a1a" stroke-width="0.7"/>
<circle cx="300.20" cy="194.50" r="1.6" fill="none" stroke="#1a1a1a" stroke-width="0.7"/>
<circle cx="309.10" cy="195.30" r="1.6" fill="none" stroke="#1a1a1a" stroke-width="0.7"/>
<circle cx="302.60" cy="200.00" r="1.6" fill="none" stroke="#1a1a1a" stroke-width="0.7"/>
<circle cx="302.60" cy="202.50" r="1.6" fill="none" stroke="#1a1a1a" stroke-width="0.7"/>
<circle cx="295.70" cy="209.70" r="1.6" fill="none" stroke="#1a1a1a" stroke-width="0.7"/>
<circle cx="300.20" cy="211.60" r="1.6" fill="none" stroke="#1a1a1a" stroke-width="0.7"/>
<circle cx="303.40" cy="210.50" r="1.6" fill="none" stroke="#1a1a1a" stroke-width="0.7"/>
<circle cx="306.70" cy="210.50" r="1.6" fill="none" stroke="#1a1a1a" stroke-width="0.7"/>
<circle cx="309.10" cy="212.10" r="1.6" fill="none" stroke="#1a1a1a" stroke-width="0.7"/>
<circle cx="302.30" cy="218.20" r="1.6" fill="none" stroke="#1a1a1a" stroke-width="0.7"/>
<circle cx="300.20" cy="222.00" r="1.6" fill="none" stroke="#1a1a1a" stroke-width="0.7"/>
<circle cx="305.00" cy="223.70" r="1.6" fill="none" stroke="#1a1a1a" stroke-width="0.7"/>
<circle cx="300.20" cy="225.80" r="1.6" fill="none" stroke="#1a1a1a" stroke-width="0.7"/>
<rect x="323.10" y="192.00" width="3.4" height="3.4" fill="#ff0000"/>
<rect x="327.40" y="193.60" width="3.4" height="3.4" fill="#ff0000"/>
<rect x="321.00" y="197.90" width="3.4" height="3.4" fill="#ff0000"/>
<rect x="329.90" y="197.90" width="3.4" height="3.4" fill="#ff0000"/>
<rect x="325.40" y="200.00" width="3.4" height="3.4" fill="#ff0000"/>
<rect x="318.90" y="208.50" width="3.4" height="3.4" fill="#ff0000"/>
<rect x="331.90" y="208.50" width="3.4" height="3.4" fill="#ff0000"/>
<rect x="323.40" y="210.40" width="3.4" height="3.4" fill="#ff0000"/>
<rect x="327.40" y="209.60" width="3.4" height="3.4" fill="#ff0000"/>
<rect x="318.90" y="216.80" width="3.4" height="3.4" fill="#ff0000"/>
<rect x="331.90" y="216.80" width="3.4" height="3.4" fill="#ff0000"/>
<rect x="322.60" y="218.40" width="3.4" height="3.4" fill="#ff0000"/>
<rect x="327.40" y="219.30" width="3.4" height="3.4" fill="#ff0000"/>
<rect x="327.40" y="221.70" width="3.4" height="3.4" fill="#ff0000"/>
<rect x="322.60" y="223.70" width="3.4" height="3.4" fill="#ff0000"/>
<path d="M249.60 181.00V178.50H277.30V181.00" fill="none" stroke="#666" stroke-width="0.7"/>
<text x="265.40" y="174.70" font-size="8.5" text-anchor="middle" fill="#1a1a1a" stroke="#1a1a1a" stroke-width="0.3" font-weight="normal" textLength="42.00" lengthAdjust="spacing" >p = 0.0002</text>
<text x="210.30" y="225.80" font-size="8.8" text-anchor="middle" fill="#1a1a1a" stroke="#1a1a1a" stroke-width="0.3" font-weight="normal" textLength="78.50" lengthAdjust="spacingAndGlyphs" transform="rotate(-90 210.30 225.80)" >% proliferating T cells</text>
<text x="239.30" y="289.70" font-size="8.8" text-anchor="end" fill="#1a1a1a" stroke="#1a1a1a" stroke-width="0.3" font-weight="normal" textLength="48.20" lengthAdjust="spacing" >αCD3/CD28</text>
<text x="240.40" y="300.20" font-size="8.8" text-anchor="end" fill="#1a1a1a" stroke="#1a1a1a" stroke-width="0.3" font-weight="normal" textLength="50.40" lengthAdjust="spacingAndGlyphs" >Sham B cells</text>
<text x="236.20" y="310.70" font-size="8.8" text-anchor="end" fill="#ff0000" stroke="#ff0000" stroke-width="0.3" font-weight="normal" textLength="42.00" lengthAdjust="spacingAndGlyphs" >CLP B cells</text>
<text x="253.30" y="290.20" font-size="7.5" text-anchor="middle" fill="#1a1a1a" stroke="#1a1a1a" stroke-width="0.3" font-weight="normal" >-</text>
<text x="278.80" y="290.20" font-size="7.5" text-anchor="middle" fill="#1a1a1a" stroke="#1a1a1a" stroke-width="0.3" font-weight="normal" >+</text>
<text x="301.70" y="290.20" font-size="7.5" text-anchor="middle" fill="#1a1a1a" stroke="#1a1a1a" stroke-width="0.3" font-weight="normal" >+</text>
<text x="326.70" y="290.20" font-size="7.5" text-anchor="middle" fill="#1a1a1a" stroke="#1a1a1a" stroke-width="0.3" font-weight="normal" >+</text>
<text x="253.30" y="300.80" font-size="7.5" text-anchor="middle" fill="#1a1a1a" stroke="#1a1a1a" stroke-width="0.3" font-weight="normal" >-</text>
<text x="278.80" y="300.80" font-size="7.5" text-anchor="middle" fill="#1a1a1a" stroke="#1a1a1a" stroke-width="0.3" font-weight="normal" >-</text>
<text x="301.70" y="300.80" font-size="7.5" text-anchor="middle" fill="#1a1a1a" stroke="#1a1a1a" stroke-width="0.3" font-weight="normal" >+</text>
<text x="326.70" y="300.80" font-size="7.5" text-anchor="middle" fill="#1a1a1a" stroke="#1a1a1a" stroke-width="0.3" font-weight="normal" >-</text>
<text x="253.30" y="311.30" font-size="7.5" text-anchor="middle" fill="#ff0000" stroke="#ff0000" stroke-width="0.3" font-weight="normal" >-</text>
<text x="278.80" y="311.30" font-size="7.5" text-anchor="middle" fill="#ff0000" stroke="#ff0000" stroke-width="0.3" font-weight="normal" >-</text>
<text x="301.70" y="311.30" font-size="7.5" text-anchor="middle" fill="#ff0000" stroke="#ff0000" stroke-width="0.3" font-weight="normal" >-</text>
<text x="326.70" y="311.30" font-size="7.5" text-anchor="middle" fill="#ff0000" stroke="#ff0000" stroke-width="0.3" font-weight="normal" >+</text>
<text x="376.50" y="165.00" font-size="16.2" text-anchor="start" fill="#1a1a1a" stroke="#1a1a1a" stroke-width="0.5" font-weight="normal" >h</text>
<line x1="414.80" y1="182.65" x2="414.80" y2="275.20" stroke="#8a8a8a" stroke-width="0.9" />
<line x1="410.80" y1="182.65" x2="414.80" y2="182.65" stroke="#444" stroke-width="0.7" />
<text x="407.60" y="185.31" font-size="7.6" text-anchor="end" fill="#1a1a1a" stroke="#1a1a1a" stroke-width="0.3" font-weight="normal" >1000</text>
<line x1="410.80" y1="213.50" x2="414.80" y2="213.50" stroke="#444" stroke-width="0.7" />
<text x="407.60" y="216.16" font-size="7.6" text-anchor="end" fill="#1a1a1a" stroke="#1a1a1a" stroke-width="0.3" font-weight="normal" >100</text>
<line x1="410.80" y1="244.35" x2="414.80" y2="244.35" stroke="#444" stroke-width="0.7" />
<text x="407.60" y="247.01" font-size="7.6" text-anchor="end" fill="#1a1a1a" stroke="#1a1a1a" stroke-width="0.3" font-weight="normal" >10</text>
<line x1="410.80" y1="275.20" x2="414.80" y2="275.20" stroke="#444" stroke-width="0.7" />
<text x="407.60" y="277.86" font-size="7.6" text-anchor="end" fill="#1a1a1a" stroke="#1a1a1a" stroke-width="0.3" font-weight="normal" >1</text>
<line x1="410.80" y1="275.20" x2="520.80" y2="275.20" stroke="#333" stroke-width="0.8" />
<line x1="430.90" y1="275.20" x2="430.90" y2="278.60" stroke="#555" stroke-width="0.7" />
<line x1="455.00" y1="275.20" x2="455.00" y2="278.60" stroke="#555" stroke-width="0.7" />
<line x1="479.20" y1="275.20" x2="479.20" y2="278.60" stroke="#555" stroke-width="0.7" />
<line x1="503.50" y1="275.20" x2="503.50" y2="278.60" stroke="#555" stroke-width="0.7" />
<path d="M447.00 275.20V209.40H462.70V275.20" fill="none" stroke="#1a1a1a" stroke-width="0.7"/>
<path d="M471.30 275.20V204.90H486.80V275.20" fill="none" stroke="#1a1a1a" stroke-width="0.7"/>
<path d="M495.30 275.20V207.30H511.60V275.20" fill="none" stroke="#ff0000" stroke-width="0.6"/>
<line x1="454.80" y1="203.80" x2="454.80" y2="209.40" stroke="#1a1a1a" stroke-width="0.7" />
<line x1="450.40" y1="203.80" x2="459.20" y2="203.80" stroke="#1a1a1a" stroke-width="0.7" />
<line x1="450.40" y1="209.40" x2="459.20" y2="209.40" stroke="#1a1a1a" stroke-width="0.7" />
<line x1="479.20" y1="196.00" x2="479.20" y2="204.90" stroke="#1a1a1a" stroke-width="0.7" />
<line x1="475.00" y1="196.00" x2="483.40" y2="196.00" stroke="#1a1a1a" stroke-width="0.7" />
<line x1="475.00" y1="204.90" x2="483.40" y2="204.90" stroke="#1a1a1a" stroke-width="0.7" />
<line x1="503.50" y1="203.00" x2="503.50" y2="213.00" stroke="#ff0000" stroke-width="0.6" />
<line x1="499.30" y1="203.00" x2="507.70" y2="203.00" stroke="#ff0000" stroke-width="0.6" />
<line x1="499.30" y1="213.00" x2="507.70" y2="213.00" stroke="#ff0000" stroke-width="0.6" />
<circle cx="449.40" cy="201.40" r="1.9" fill="none" stroke="#1a1a1a" stroke-width="0.7"/>
<circle cx="461.50" cy="204.90" r="1.9" fill="none" stroke="#1a1a1a" stroke-width="0.7"/>
<circle cx="449.40" cy="211.60" r="1.9" fill="none" stroke="#1a1a1a" stroke-width="0.7"/>
<circle cx="461.50" cy="213.20" r="1.9" fill="none" stroke="#1a1a1a" stroke-width="0.7"/>
<circle cx="455.40" cy="220.10" r="1.9" fill="none" stroke="#1a1a1a" stroke-width="0.7"/>
<circle cx="473.80" cy="194.90" r="1.9" fill="none" stroke="#1a1a1a" stroke-width="0.7"/>
<circle cx="485.90" cy="195.60" r="1.9" fill="none" stroke="#1a1a1a" stroke-width="0.7"/>
<circle cx="473.80" cy="201.70" r="1.9" fill="none" stroke="#1a1a1a" stroke-width="0.7"/>
<circle cx="485.90" cy="205.40" r="1.9" fill="none" stroke="#1a1a1a" stroke-width="0.7"/>
<circle cx="473.80" cy="216.10" r="1.9" fill="none" stroke="#1a1a1a" stroke-width="0.7"/>
<circle cx="485.90" cy="216.60" r="1.9" fill="none" stroke="#1a1a1a" stroke-width="0.7"/>
<circle cx="480.30" cy="227.70" r="1.9" fill="none" stroke="#1a1a1a" stroke-width="0.7"/>
<rect x="502.00" y="191.70" width="4" height="4" fill="#ff0000"/>
<rect x="496.20" y="201.60" width="4" height="4" fill="#ff0000"/>
<rect x="499.60" y="200.80" width="4" height="4" fill="#ff0000"/>
<rect x="503.00" y="201.90" width="4" height="4" fill="#ff0000"/>
<rect x="506.30" y="200.60" width="4" height="4" fill="#ff0000"/>
<rect x="509.00" y="201.60" width="4" height="4" fill="#ff0000"/>
<rect x="496.30" y="212.40" width="4" height="4" fill="#ff0000"/>
<rect x="499.70" y="213.40" width="4" height="4" fill="#ff0000"/>
<rect x="503.00" y="212.20" width="4" height="4" fill="#ff0000"/>
<rect x="506.40" y="213.50" width="4" height="4" fill="#ff0000"/>
<rect x="509.00" y="212.60" width="4" height="4" fill="#ff0000"/>
<rect x="502.00" y="215.50" width="4" height="4" fill="#ff0000"/>
<rect x="502.00" y="218.30" width="4" height="4" fill="#ff0000"/>
<path d="M428.00 194.10V191.60H455.80V194.10" fill="none" stroke="#666" stroke-width="0.7"/>
<text x="443.90" y="185.60" font-size="8.5" text-anchor="middle" fill="#1a1a1a" stroke="#1a1a1a" stroke-width="0.3" font-weight="normal" textLength="42.10" lengthAdjust="spacing" >p = 0.0079</text>
<text x="385.20" y="223.00" font-size="8.8" text-anchor="middle" fill="#1a1a1a" stroke="#1a1a1a" stroke-width="0.3" font-weight="normal" textLength="102.00" lengthAdjust="spacingAndGlyphs" transform="rotate(-90 385.20 223.00)" >IFNg in supernatant (pg/mL)</text>
<text x="416.90" y="288.50" font-size="8.8" text-anchor="end" fill="#1a1a1a" stroke="#1a1a1a" stroke-width="0.3" font-weight="normal" textLength="48.40" lengthAdjust="spacing" >αCD3/CD28</text>
<text x="418.10" y="298.80" font-size="8.8" text-anchor="end" fill="#1a1a1a" stroke="#1a1a1a" stroke-width="0.3" font-weight="normal" textLength="50.30" lengthAdjust="spacingAndGlyphs" >Sham B cells</text>
<text x="413.90" y="309.50" font-size="8.8" text-anchor="end" fill="#ff0000" stroke="#ff0000" stroke-width="0.3" font-weight="normal" textLength="42.10" lengthAdjust="spacingAndGlyphs" >CLP B cells</text>
<text x="430.90" y="289.10" font-size="7.5" text-anchor="middle" fill="#1a1a1a" stroke="#1a1a1a" stroke-width="0.3" font-weight="normal" >-</text>
<text x="456.20" y="289.10" font-size="7.5" text-anchor="middle" fill="#1a1a1a" stroke="#1a1a1a" stroke-width="0.3" font-weight="normal" >+</text>
<text x="479.50" y="289.10" font-size="7.5" text-anchor="middle" fill="#1a1a1a" stroke="#1a1a1a" stroke-width="0.3" font-weight="normal" >+</text>
<text x="504.50" y="289.10" font-size="7.5" text-anchor="middle" fill="#1a1a1a" stroke="#1a1a1a" stroke-width="0.3" font-weight="normal" >+</text>
<text x="430.90" y="299.40" font-size="7.5" text-anchor="middle" fill="#1a1a1a" stroke="#1a1a1a" stroke-width="0.3" font-weight="normal" >-</text>
<text x="456.20" y="299.40" font-size="7.5" text-anchor="middle" fill="#1a1a1a" stroke="#1a1a1a" stroke-width="0.3" font-weight="normal" >-</text>
<text x="479.50" y="299.40" font-size="7.5" text-anchor="middle" fill="#1a1a1a" stroke="#1a1a1a" stroke-width="0.3" font-weight="normal" >+</text>
<text x="504.50" y="299.40" font-size="7.5" text-anchor="middle" fill="#1a1a1a" stroke="#1a1a1a" stroke-width="0.3" font-weight="normal" >-</text>
<text x="430.90" y="310.60" font-size="7.5" text-anchor="middle" fill="#ff0000" stroke="#ff0000" stroke-width="0.3" font-weight="normal" >-</text>
<text x="456.20" y="310.60" font-size="7.5" text-anchor="middle" fill="#ff0000" stroke="#ff0000" stroke-width="0.3" font-weight="normal" >-</text>
<text x="479.50" y="310.60" font-size="7.5" text-anchor="middle" fill="#ff0000" stroke="#ff0000" stroke-width="0.3" font-weight="normal" >-</text>
<text x="504.50" y="310.60" font-size="7.5" text-anchor="middle" fill="#ff0000" stroke="#ff0000" stroke-width="0.3" font-weight="normal" >+</text>
<rect x="564" y="213.5" width="7.1" height="7.2" fill="#ff0000"/>
<text x="576.6" y="221.7" font-size="11.3" fill="#ff0000" stroke="#ff0000" stroke-width="0.3" textLength="25.4" lengthAdjust="spacing">CLP</text>
<circle cx="613.6" cy="216.9" r="3.1" fill="none" stroke="#222" stroke-width="0.9"/>
<text x="623" y="221.7" font-size="11.3" fill="#1a1a1a" stroke="#1a1a1a" stroke-width="0.3" textLength="33.2" lengthAdjust="spacing">Sham</text>
</svg>
</body></html>
